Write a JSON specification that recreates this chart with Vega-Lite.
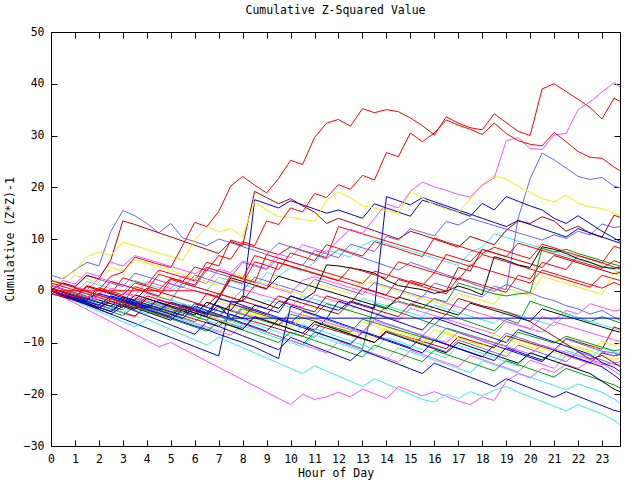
{
"$schema": "https://vega.github.io/schema/vega-lite/v6.json",
"width": 569, "height": 414,
"autosize": {"type": "none"},
"padding": {"left": 51, "top": 32, "right": 20, "bottom": 34},
"background": "white",
"title": {"text": "Cumulative Z-Squared Value", "font": "DejaVu Sans Mono", "fontSize": 11.5, "fontWeight": "normal", "color": "#000000", "offset": 10},
"config": {
  "view": {"stroke": "#000000", "strokeWidth": 1},
  "axis": {"domain": false, "grid": false, "labelFlush": false, "tickColor": "#000000", "tickSize": -6, "tickWidth": 1, "labelPadding": 13, "labelFont": "DejaVu Sans Mono", "labelFontSize": 11.5, "labelColor": "#000000", "titleFont": "DejaVu Sans Mono", "titleFontSize": 11.5, "titleFontWeight": "normal", "titleColor": "#000000"}
},
"data": {"values": [
{"s":"n1","x":0,"y":0},{"s":"n1","x":0.5,"y":-0.8},{"s":"n1","x":1,"y":-1.6},{"s":"n1","x":1.5,"y":-2.4},{"s":"n1","x":2,"y":-0.6},{"s":"n1","x":2.5,"y":-1.4},{"s":"n1","x":3,"y":-2.2},{"s":"n1","x":3.5,"y":-3},{"s":"n1","x":4,"y":-3.8},{"s":"n1","x":4.5,"y":-4.6},{"s":"n1","x":5,"y":-2.4},{"s":"n1","x":5.5,"y":-3.2},{"s":"n1","x":6,"y":-4},{"s":"n1","x":6.5,"y":-4.8},{"s":"n1","x":7,"y":-5.6},{"s":"n1","x":7.5,"y":-6.4},{"s":"n1","x":8,"y":-7.2},{"s":"n1","x":8.5,"y":-5},{"s":"n1","x":9,"y":-5.8},{"s":"n1","x":9.5,"y":-6.6},{"s":"n1","x":10,"y":-7.4},{"s":"n1","x":10.5,"y":-8.2},{"s":"n1","x":11,"y":-9},{"s":"n1","x":11.5,"y":-6.8},{"s":"n1","x":12,"y":-7.6},{"s":"n1","x":12.5,"y":-8.4},{"s":"n1","x":13,"y":-9.2},{"s":"n1","x":13.5,"y":-10},{"s":"n1","x":14,"y":-7.8},{"s":"n1","x":14.5,"y":-8.6},{"s":"n1","x":15,"y":-9.4},{"s":"n1","x":15.5,"y":-10.2},{"s":"n1","x":16,"y":-11},{"s":"n1","x":16.5,"y":-11.8},{"s":"n1","x":17,"y":-9.5},{"s":"n1","x":17.5,"y":-10.3},{"s":"n1","x":18,"y":-11.1},{"s":"n1","x":18.5,"y":-11.9},{"s":"n1","x":19,"y":-12.7},{"s":"n1","x":19.5,"y":-10.5},{"s":"n1","x":20,"y":-11.3},{"s":"n1","x":20.5,"y":-12.1},{"s":"n1","x":21,"y":-12.9},{"s":"n1","x":21.5,"y":-13.7},{"s":"n1","x":22,"y":-11.8},{"s":"n1","x":22.5,"y":-12.6},{"s":"n1","x":23,"y":-13.4},{"s":"n1","x":23.5,"y":-14.2},{"s":"n1","x":23.75,"y":-14.4},
{"s":"n2","x":0,"y":0.5},{"s":"n2","x":0.5,"y":-0.3},{"s":"n2","x":1,"y":-1.1},{"s":"n2","x":1.5,"y":1},{"s":"n2","x":2,"y":0.2},{"s":"n2","x":2.5,"y":-0.6},{"s":"n2","x":3,"y":-1.4},{"s":"n2","x":3.5,"y":-2.2},{"s":"n2","x":4,"y":-3},{"s":"n2","x":4.5,"y":-1},{"s":"n2","x":5,"y":-1.8},{"s":"n2","x":5.5,"y":-2.6},{"s":"n2","x":6,"y":-3.4},{"s":"n2","x":6.5,"y":-4.2},{"s":"n2","x":7,"y":-2},{"s":"n2","x":7.5,"y":-2.8},{"s":"n2","x":8,"y":-3.6},{"s":"n2","x":8.5,"y":-4.4},{"s":"n2","x":9,"y":-5.2},{"s":"n2","x":9.5,"y":-6},{"s":"n2","x":10,"y":-6.8},{"s":"n2","x":10.5,"y":-4.5},{"s":"n2","x":11,"y":-5.3},{"s":"n2","x":11.5,"y":-6.1},{"s":"n2","x":12,"y":-6.9},{"s":"n2","x":12.5,"y":-7.7},{"s":"n2","x":13,"y":-8.5},{"s":"n2","x":13.5,"y":-9.3},{"s":"n2","x":14,"y":-7},{"s":"n2","x":14.5,"y":-7.8},{"s":"n2","x":15,"y":-8.6},{"s":"n2","x":15.5,"y":-9.4},{"s":"n2","x":16,"y":-10.2},{"s":"n2","x":16.5,"y":-8},{"s":"n2","x":17,"y":-8.8},{"s":"n2","x":17.5,"y":-9.6},{"s":"n2","x":18,"y":-10.4},{"s":"n2","x":18.5,"y":-11.2},{"s":"n2","x":19,"y":-12},{"s":"n2","x":19.5,"y":-9.5},{"s":"n2","x":20,"y":-10.3},{"s":"n2","x":20.5,"y":-11.1},{"s":"n2","x":21,"y":-11.9},{"s":"n2","x":21.5,"y":-12.7},{"s":"n2","x":22,"y":-10.8},{"s":"n2","x":22.5,"y":-11.6},{"s":"n2","x":23,"y":-12.4},{"s":"n2","x":23.5,"y":-13.2},{"s":"n2","x":23.75,"y":-13},
{"s":"n3","x":0,"y":1},{"s":"n3","x":0.5,"y":0.2},{"s":"n3","x":1,"y":-0.6},{"s":"n3","x":1.5,"y":-1.4},{"s":"n3","x":2,"y":-2.2},{"s":"n3","x":2.5,"y":-3},{"s":"n3","x":3,"y":-1.2},{"s":"n3","x":3.5,"y":-2},{"s":"n3","x":4,"y":-2.8},{"s":"n3","x":4.5,"y":-3.6},{"s":"n3","x":5,"y":-4.4},{"s":"n3","x":5.5,"y":-5.2},{"s":"n3","x":6,"y":-6},{"s":"n3","x":6.5,"y":-4},{"s":"n3","x":7,"y":-4.8},{"s":"n3","x":7.5,"y":-5.6},{"s":"n3","x":8,"y":-6.4},{"s":"n3","x":8.5,"y":-7.2},{"s":"n3","x":9,"y":-8},{"s":"n3","x":9.5,"y":-8.8},{"s":"n3","x":10,"y":-9.6},{"s":"n3","x":10.5,"y":-10.4},{"s":"n3","x":11,"y":-8},{"s":"n3","x":11.5,"y":-8.8},{"s":"n3","x":12,"y":-9.6},{"s":"n3","x":12.5,"y":-10.4},{"s":"n3","x":13,"y":-11.2},{"s":"n3","x":13.5,"y":-2.5},{"s":"n3","x":14,"y":-3.3},{"s":"n3","x":14.5,"y":-4.1},{"s":"n3","x":15,"y":-4.9},{"s":"n3","x":15.5,"y":-5.7},{"s":"n3","x":16,"y":-6.5},{"s":"n3","x":16.5,"y":-4.5},{"s":"n3","x":17,"y":-5.3},{"s":"n3","x":17.5,"y":-6.1},{"s":"n3","x":18,"y":-6.9},{"s":"n3","x":18.5,"y":-7.7},{"s":"n3","x":19,"y":-5.5},{"s":"n3","x":19.5,"y":-6.3},{"s":"n3","x":20,"y":-2},{"s":"n3","x":20.5,"y":-2.8},{"s":"n3","x":21,"y":-3.6},{"s":"n3","x":21.5,"y":-4.4},{"s":"n3","x":22,"y":-5.2},{"s":"n3","x":22.5,"y":-6},{"s":"n3","x":23,"y":-5},{"s":"n3","x":23.5,"y":-5.8},{"s":"n3","x":23.75,"y":-6.2},
{"s":"n4","x":0,"y":0},{"s":"n4","x":0.5,"y":-0.7},{"s":"n4","x":1,"y":-1.4},{"s":"n4","x":1.5,"y":-2.1},{"s":"n4","x":2,"y":-2.8},{"s":"n4","x":2.5,"y":-3.5},{"s":"n4","x":3,"y":-1.5},{"s":"n4","x":3.5,"y":-2.2},{"s":"n4","x":4,"y":-2.9},{"s":"n4","x":4.5,"y":-3.6},{"s":"n4","x":5,"y":-1.8},{"s":"n4","x":5.5,"y":-2.5},{"s":"n4","x":6,"y":-3.2},{"s":"n4","x":6.5,"y":-3.9},{"s":"n4","x":7,"y":-4.6},{"s":"n4","x":7.5,"y":-2.5},{"s":"n4","x":8,"y":-3.2},{"s":"n4","x":8.5,"y":-3.9},{"s":"n4","x":9,"y":-1.8},{"s":"n4","x":9.5,"y":-2.5},{"s":"n4","x":10,"y":-3.2},{"s":"n4","x":10.5,"y":-1},{"s":"n4","x":11,"y":-1.7},{"s":"n4","x":11.5,"y":-2.4},{"s":"n4","x":12,"y":-3.1},{"s":"n4","x":12.5,"y":-3.8},{"s":"n4","x":13,"y":-1.5},{"s":"n4","x":13.5,"y":-2.2},{"s":"n4","x":14,"y":-2.9},{"s":"n4","x":14.5,"y":-3.6},{"s":"n4","x":15,"y":-4.3},{"s":"n4","x":15.5,"y":-5},{"s":"n4","x":16,"y":-2.8},{"s":"n4","x":16.5,"y":-3.5},{"s":"n4","x":17,"y":-4.2},{"s":"n4","x":17.5,"y":-4.9},{"s":"n4","x":18,"y":-5.6},{"s":"n4","x":18.5,"y":-6.3},{"s":"n4","x":19,"y":-4},{"s":"n4","x":19.5,"y":-4.7},{"s":"n4","x":20,"y":-5.4},{"s":"n4","x":20.5,"y":-6.1},{"s":"n4","x":21,"y":-6.8},{"s":"n4","x":21.5,"y":-4.5},{"s":"n4","x":22,"y":-5.2},{"s":"n4","x":22.5,"y":-5.9},{"s":"n4","x":23,"y":-6.6},{"s":"n4","x":23.5,"y":-7.3},{"s":"n4","x":23.75,"y":-7.6},
{"s":"n5","x":0,"y":0},{"s":"n5","x":0.5,"y":-0.9},{"s":"n5","x":1,"y":-1.8},{"s":"n5","x":1.5,"y":-2.7},{"s":"n5","x":2,"y":-3.6},{"s":"n5","x":2.5,"y":-4.5},{"s":"n5","x":3,"y":-5.4},{"s":"n5","x":3.5,"y":-6.3},{"s":"n5","x":4,"y":-7.2},{"s":"n5","x":4.5,"y":-8.1},{"s":"n5","x":5,"y":-9},{"s":"n5","x":5.5,"y":-9.9},{"s":"n5","x":6,"y":-10.8},{"s":"n5","x":6.5,"y":-11.7},{"s":"n5","x":7,"y":-12.6},{"s":"n5","x":7.5,"y":-2},{"s":"n5","x":8,"y":-2.8},{"s":"n5","x":8.5,"y":-3.6},{"s":"n5","x":9,"y":-4.4},{"s":"n5","x":9.5,"y":-5.2},{"s":"n5","x":10,"y":-6},{"s":"n5","x":10.5,"y":-6.8},{"s":"n5","x":11,"y":-7.6},{"s":"n5","x":11.5,"y":-5.4},{"s":"n5","x":12,"y":-6.2},{"s":"n5","x":12.5,"y":-7},{"s":"n5","x":13,"y":-7.8},{"s":"n5","x":13.5,"y":-8.6},{"s":"n5","x":14,"y":-9.4},{"s":"n5","x":14.5,"y":-10.2},{"s":"n5","x":15,"y":-11},{"s":"n5","x":15.5,"y":-8.8},{"s":"n5","x":16,"y":-9.6},{"s":"n5","x":16.5,"y":-10.4},{"s":"n5","x":17,"y":-11.2},{"s":"n5","x":17.5,"y":-12},{"s":"n5","x":18,"y":-12.8},{"s":"n5","x":18.5,"y":-10.5},{"s":"n5","x":19,"y":-11.3},{"s":"n5","x":19.5,"y":-12.1},{"s":"n5","x":20,"y":-12.9},{"s":"n5","x":20.5,"y":-13.7},{"s":"n5","x":21,"y":-11.5},{"s":"n5","x":21.5,"y":-12.3},{"s":"n5","x":22,"y":-13.1},{"s":"n5","x":22.5,"y":-13.9},{"s":"n5","x":23,"y":-12},{"s":"n5","x":23.5,"y":-12.6},{"s":"n5","x":23.75,"y":-12.3},
{"s":"n6","x":0,"y":0.5},{"s":"n6","x":0.5,"y":-0.3},{"s":"n6","x":1,"y":-1.1},{"s":"n6","x":1.5,"y":-1.9},{"s":"n6","x":2,"y":-2.7},{"s":"n6","x":2.5,"y":-3.5},{"s":"n6","x":3,"y":-4.3},{"s":"n6","x":3.5,"y":-5.1},{"s":"n6","x":4,"y":-3},{"s":"n6","x":4.5,"y":-3.8},{"s":"n6","x":5,"y":-4.6},{"s":"n6","x":5.5,"y":-5.4},{"s":"n6","x":6,"y":-6.2},{"s":"n6","x":6.5,"y":-7},{"s":"n6","x":7,"y":-7.8},{"s":"n6","x":7.5,"y":-8.6},{"s":"n6","x":8,"y":-6.4},{"s":"n6","x":8.5,"y":-7.2},{"s":"n6","x":9,"y":-8},{"s":"n6","x":9.5,"y":-8.8},{"s":"n6","x":10,"y":-9.6},{"s":"n6","x":10.5,"y":-10.4},{"s":"n6","x":11,"y":-11.2},{"s":"n6","x":11.5,"y":-12},{"s":"n6","x":12,"y":-9.8},{"s":"n6","x":12.5,"y":-10.6},{"s":"n6","x":13,"y":-11.4},{"s":"n6","x":13.5,"y":-12.2},{"s":"n6","x":14,"y":-13},{"s":"n6","x":14.5,"y":-13.8},{"s":"n6","x":15,"y":-11.5},{"s":"n6","x":15.5,"y":-12.3},{"s":"n6","x":16,"y":-13.1},{"s":"n6","x":16.5,"y":-13.9},{"s":"n6","x":17,"y":-14.7},{"s":"n6","x":17.5,"y":-12.5},{"s":"n6","x":18,"y":-13.3},{"s":"n6","x":18.5,"y":-14.1},{"s":"n6","x":19,"y":-14.9},{"s":"n6","x":19.5,"y":-15.7},{"s":"n6","x":20,"y":-13.4},{"s":"n6","x":20.5,"y":-14.2},{"s":"n6","x":21,"y":-15},{"s":"n6","x":21.5,"y":-12.5},{"s":"n6","x":22,"y":-13.3},{"s":"n6","x":22.5,"y":-14.1},{"s":"n6","x":23,"y":-11.8},{"s":"n6","x":23.5,"y":-12.6},{"s":"n6","x":23.75,"y":-11.9},
{"s":"n7","x":0,"y":0},{"s":"n7","x":0.5,"y":-0.7},{"s":"n7","x":1,"y":-1.4},{"s":"n7","x":1.5,"y":-2.1},{"s":"n7","x":2,"y":-2.8},{"s":"n7","x":2.5,"y":-3.5},{"s":"n7","x":3,"y":-4.2},{"s":"n7","x":3.5,"y":-4.9},{"s":"n7","x":4,"y":-2.7},{"s":"n7","x":4.5,"y":-3.4},{"s":"n7","x":5,"y":-4.1},{"s":"n7","x":5.5,"y":-4.8},{"s":"n7","x":6,"y":-5.5},{"s":"n7","x":6.5,"y":-6.2},{"s":"n7","x":7,"y":-6.9},{"s":"n7","x":7.5,"y":-4.6},{"s":"n7","x":8,"y":-5.3},{"s":"n7","x":8.5,"y":-6},{"s":"n7","x":9,"y":-6.7},{"s":"n7","x":9.5,"y":-7.4},{"s":"n7","x":10,"y":-8.1},{"s":"n7","x":10.5,"y":-8.8},{"s":"n7","x":11,"y":-6.5},{"s":"n7","x":11.5,"y":-7.2},{"s":"n7","x":12,"y":-7.9},{"s":"n7","x":12.5,"y":-8.6},{"s":"n7","x":13,"y":-9.3},{"s":"n7","x":13.5,"y":-10},{"s":"n7","x":14,"y":-7.7},{"s":"n7","x":14.5,"y":-8.4},{"s":"n7","x":15,"y":-9.1},{"s":"n7","x":15.5,"y":-9.8},{"s":"n7","x":16,"y":-10.5},{"s":"n7","x":16.5,"y":-11.2},{"s":"n7","x":17,"y":-8.9},{"s":"n7","x":17.5,"y":-9.6},{"s":"n7","x":18,"y":-10.3},{"s":"n7","x":18.5,"y":-11},{"s":"n7","x":19,"y":-8.7},{"s":"n7","x":19.5,"y":-9.4},{"s":"n7","x":20,"y":-10.1},{"s":"n7","x":20.5,"y":-10.8},{"s":"n7","x":21,"y":-11.5},{"s":"n7","x":21.5,"y":-9.2},{"s":"n7","x":22,"y":-9.9},{"s":"n7","x":22.5,"y":-10.6},{"s":"n7","x":23,"y":-11.3},{"s":"n7","x":23.5,"y":-7},{"s":"n7","x":23.75,"y":-7.4},
{"s":"n8","x":0,"y":0},{"s":"n8","x":0.5,"y":-0.7},{"s":"n8","x":1,"y":-1.4},{"s":"n8","x":1.5,"y":0.8},{"s":"n8","x":2,"y":0.1},{"s":"n8","x":2.5,"y":-0.6},{"s":"n8","x":3,"y":2.5},{"s":"n8","x":3.5,"y":1.8},{"s":"n8","x":4,"y":1.1},{"s":"n8","x":4.5,"y":4},{"s":"n8","x":5,"y":3.3},{"s":"n8","x":5.5,"y":2.6},{"s":"n8","x":6,"y":1.9},{"s":"n8","x":6.5,"y":5.5},{"s":"n8","x":7,"y":4.8},{"s":"n8","x":7.5,"y":9.8},{"s":"n8","x":8,"y":9.1},{"s":"n8","x":8.5,"y":8.4},{"s":"n8","x":9,"y":7.7},{"s":"n8","x":9.5,"y":7},{"s":"n8","x":10,"y":8.5},{"s":"n8","x":10.5,"y":7.8},{"s":"n8","x":11,"y":7.1},{"s":"n8","x":11.5,"y":6.4},{"s":"n8","x":12,"y":12.4},{"s":"n8","x":12.5,"y":11.7},{"s":"n8","x":13,"y":11},{"s":"n8","x":13.5,"y":10.3},{"s":"n8","x":14,"y":9.6},{"s":"n8","x":14.5,"y":8.9},{"s":"n8","x":15,"y":8.2},{"s":"n8","x":15.5,"y":7.5},{"s":"n8","x":16,"y":6.8},{"s":"n8","x":16.5,"y":6.1},{"s":"n8","x":17,"y":5.4},{"s":"n8","x":17.5,"y":4.7},{"s":"n8","x":18,"y":7},{"s":"n8","x":18.5,"y":6.3},{"s":"n8","x":19,"y":5.6},{"s":"n8","x":19.5,"y":4.9},{"s":"n8","x":20,"y":4.2},{"s":"n8","x":20.5,"y":3.5},{"s":"n8","x":21,"y":2.8},{"s":"n8","x":21.5,"y":2.1},{"s":"n8","x":22,"y":1.4},{"s":"n8","x":22.5,"y":0.7},{"s":"n8","x":23,"y":3},{"s":"n8","x":23.5,"y":2.3},{"s":"n8","x":23.75,"y":2},
{"s":"c1","x":0,"y":0.5},{"s":"c1","x":0.5,"y":-0.3},{"s":"c1","x":1,"y":-1.1},{"s":"c1","x":1.5,"y":-1.9},{"s":"c1","x":2,"y":-2.7},{"s":"c1","x":2.5,"y":-3.5},{"s":"c1","x":3,"y":-4.3},{"s":"c1","x":3.5,"y":-2.5},{"s":"c1","x":4,"y":-3.3},{"s":"c1","x":4.5,"y":-4.1},{"s":"c1","x":5,"y":-4.9},{"s":"c1","x":5.5,"y":-5.7},{"s":"c1","x":6,"y":-6.5},{"s":"c1","x":6.5,"y":-7.3},{"s":"c1","x":7,"y":-8.1},{"s":"c1","x":7.5,"y":-6},{"s":"c1","x":8,"y":-6.8},{"s":"c1","x":8.5,"y":-7.6},{"s":"c1","x":9,"y":-8.4},{"s":"c1","x":9.5,"y":-9.2},{"s":"c1","x":10,"y":-10},{"s":"c1","x":10.5,"y":-10.8},{"s":"c1","x":11,"y":-8.5},{"s":"c1","x":11.5,"y":-9.3},{"s":"c1","x":12,"y":-10.1},{"s":"c1","x":12.5,"y":-10.9},{"s":"c1","x":13,"y":-11.7},{"s":"c1","x":13.5,"y":-12.5},{"s":"c1","x":14,"y":-13.3},{"s":"c1","x":14.5,"y":-11},{"s":"c1","x":15,"y":-11.8},{"s":"c1","x":15.5,"y":-12.6},{"s":"c1","x":16,"y":-13.4},{"s":"c1","x":16.5,"y":-14.2},{"s":"c1","x":17,"y":-15},{"s":"c1","x":17.5,"y":-15.8},{"s":"c1","x":18,"y":-13.5},{"s":"c1","x":18.5,"y":-14.3},{"s":"c1","x":19,"y":-15.1},{"s":"c1","x":19.5,"y":-15.9},{"s":"c1","x":20,"y":-16.7},{"s":"c1","x":20.5,"y":-17.5},{"s":"c1","x":21,"y":-18.3},{"s":"c1","x":21.5,"y":-19.1},{"s":"c1","x":22,"y":-18},{"s":"c1","x":22.5,"y":-18.8},{"s":"c1","x":23,"y":-19.6},{"s":"c1","x":23.5,"y":-20.9},{"s":"c1","x":23.75,"y":-21.7},
{"s":"c2","x":0,"y":0},{"s":"c2","x":0.5,"y":-1},{"s":"c2","x":1,"y":-2},{"s":"c2","x":1.5,"y":-3},{"s":"c2","x":2,"y":-4},{"s":"c2","x":2.5,"y":-5},{"s":"c2","x":3,"y":-6},{"s":"c2","x":3.5,"y":-7},{"s":"c2","x":4,"y":-5.5},{"s":"c2","x":4.5,"y":-6.5},{"s":"c2","x":5,"y":-7.5},{"s":"c2","x":5.5,"y":-8.5},{"s":"c2","x":6,"y":-9.5},{"s":"c2","x":6.5,"y":-10.5},{"s":"c2","x":7,"y":-9},{"s":"c2","x":7.5,"y":-10},{"s":"c2","x":8,"y":-11},{"s":"c2","x":8.5,"y":-12},{"s":"c2","x":9,"y":-13},{"s":"c2","x":9.5,"y":-14},{"s":"c2","x":10,"y":-15},{"s":"c2","x":10.5,"y":-16},{"s":"c2","x":11,"y":-14.5},{"s":"c2","x":11.5,"y":-15.5},{"s":"c2","x":12,"y":-16.5},{"s":"c2","x":12.5,"y":-17.5},{"s":"c2","x":13,"y":-18.5},{"s":"c2","x":13.5,"y":-17},{"s":"c2","x":14,"y":-18},{"s":"c2","x":14.5,"y":-19},{"s":"c2","x":15,"y":-20},{"s":"c2","x":15.5,"y":-21},{"s":"c2","x":16,"y":-21.5},{"s":"c2","x":16.5,"y":-20},{"s":"c2","x":17,"y":-20.8},{"s":"c2","x":17.5,"y":-19.5},{"s":"c2","x":18,"y":-20.3},{"s":"c2","x":18.5,"y":-19.2},{"s":"c2","x":19,"y":-18.5},{"s":"c2","x":19.5,"y":-19.6},{"s":"c2","x":20,"y":-20.5},{"s":"c2","x":20.5,"y":-21.4},{"s":"c2","x":21,"y":-22.3},{"s":"c2","x":21.5,"y":-23.2},{"s":"c2","x":22,"y":-22},{"s":"c2","x":22.5,"y":-22.9},{"s":"c2","x":23,"y":-23.8},{"s":"c2","x":23.5,"y":-25},{"s":"c2","x":23.75,"y":-25.9},
{"s":"c4","x":0,"y":0},{"s":"c4","x":0.5,"y":-0.8},{"s":"c4","x":1,"y":-1.6},{"s":"c4","x":1.5,"y":-0.5},{"s":"c4","x":2,"y":-1.3},{"s":"c4","x":2.5,"y":-2.1},{"s":"c4","x":3,"y":-2.9},{"s":"c4","x":3.5,"y":-3.7},{"s":"c4","x":4,"y":-4.5},{"s":"c4","x":4.5,"y":-2.5},{"s":"c4","x":5,"y":-3.3},{"s":"c4","x":5.5,"y":-4.1},{"s":"c4","x":6,"y":-4.9},{"s":"c4","x":6.5,"y":-5.7},{"s":"c4","x":7,"y":-6.5},{"s":"c4","x":7.5,"y":-4.8},{"s":"c4","x":8,"y":-5.6},{"s":"c4","x":8.5,"y":-6.4},{"s":"c4","x":9,"y":-7.2},{"s":"c4","x":9.5,"y":-8},{"s":"c4","x":10,"y":-8.8},{"s":"c4","x":10.5,"y":-6.5},{"s":"c4","x":11,"y":-7.3},{"s":"c4","x":11.5,"y":-8.1},{"s":"c4","x":12,"y":-8.9},{"s":"c4","x":12.5,"y":-9.7},{"s":"c4","x":13,"y":-10.5},{"s":"c4","x":13.5,"y":-11.3},{"s":"c4","x":14,"y":-9},{"s":"c4","x":14.5,"y":-9.8},{"s":"c4","x":15,"y":-10.6},{"s":"c4","x":15.5,"y":-11.4},{"s":"c4","x":16,"y":-12.2},{"s":"c4","x":16.5,"y":-13},{"s":"c4","x":17,"y":-10.5},{"s":"c4","x":17.5,"y":-11.3},{"s":"c4","x":18,"y":-12.1},{"s":"c4","x":18.5,"y":-12.9},{"s":"c4","x":19,"y":-13.7},{"s":"c4","x":19.5,"y":-14.5},{"s":"c4","x":20,"y":-12},{"s":"c4","x":20.5,"y":-12.8},{"s":"c4","x":21,"y":-13.6},{"s":"c4","x":21.5,"y":-11.5},{"s":"c4","x":22,"y":-12.3},{"s":"c4","x":22.5,"y":-13.1},{"s":"c4","x":23,"y":-11},{"s":"c4","x":23.5,"y":-11.8},{"s":"c4","x":23.75,"y":-12.2},
{"s":"c3","x":0,"y":1},{"s":"c3","x":0.5,"y":0.3},{"s":"c3","x":1,"y":-0.4},{"s":"c3","x":1.5,"y":1.8},{"s":"c3","x":2,"y":1.1},{"s":"c3","x":2.5,"y":0.4},{"s":"c3","x":3,"y":-0.3},{"s":"c3","x":3.5,"y":2},{"s":"c3","x":4,"y":1.3},{"s":"c3","x":4.5,"y":0.6},{"s":"c3","x":5,"y":-0.1},{"s":"c3","x":5.5,"y":1.5},{"s":"c3","x":6,"y":0.8},{"s":"c3","x":6.5,"y":0.1},{"s":"c3","x":7,"y":2.6},{"s":"c3","x":7.5,"y":1.9},{"s":"c3","x":8,"y":1.2},{"s":"c3","x":8.5,"y":0.5},{"s":"c3","x":9,"y":3.5},{"s":"c3","x":9.5,"y":2.8},{"s":"c3","x":10,"y":4.5},{"s":"c3","x":10.5,"y":3.8},{"s":"c3","x":11,"y":5.5},{"s":"c3","x":11.5,"y":7.9},{"s":"c3","x":12,"y":7.2},{"s":"c3","x":12.5,"y":6.5},{"s":"c3","x":13,"y":8.8},{"s":"c3","x":13.5,"y":9.8},{"s":"c3","x":14,"y":9.1},{"s":"c3","x":14.5,"y":8.4},{"s":"c3","x":15,"y":7.7},{"s":"c3","x":15.5,"y":7},{"s":"c3","x":16,"y":6.3},{"s":"c3","x":16.5,"y":5.6},{"s":"c3","x":17,"y":4.9},{"s":"c3","x":17.5,"y":7.5},{"s":"c3","x":18,"y":8.4},{"s":"c3","x":18.5,"y":11},{"s":"c3","x":19,"y":10.3},{"s":"c3","x":19.5,"y":9.6},{"s":"c3","x":20,"y":8.9},{"s":"c3","x":20.5,"y":8.2},{"s":"c3","x":21,"y":7.5},{"s":"c3","x":21.5,"y":6.8},{"s":"c3","x":22,"y":6.1},{"s":"c3","x":22.5,"y":5.4},{"s":"c3","x":23,"y":4.7},{"s":"c3","x":23.5,"y":4},{"s":"c3","x":23.75,"y":3.6},
{"s":"y3","x":0,"y":0},{"s":"y3","x":0.5,"y":-0.8},{"s":"y3","x":1,"y":-1.6},{"s":"y3","x":1.5,"y":-2.4},{"s":"y3","x":2,"y":-0.8},{"s":"y3","x":2.5,"y":-1.6},{"s":"y3","x":3,"y":-2.4},{"s":"y3","x":3.5,"y":-3.2},{"s":"y3","x":4,"y":-4},{"s":"y3","x":4.5,"y":-4.8},{"s":"y3","x":5,"y":-2.5},{"s":"y3","x":5.5,"y":-3.3},{"s":"y3","x":6,"y":-4.1},{"s":"y3","x":6.5,"y":-4.9},{"s":"y3","x":7,"y":-5.7},{"s":"y3","x":7.5,"y":-6.5},{"s":"y3","x":8,"y":-4},{"s":"y3","x":8.5,"y":-4.8},{"s":"y3","x":9,"y":-5.6},{"s":"y3","x":9.5,"y":-6.4},{"s":"y3","x":10,"y":-7.2},{"s":"y3","x":10.5,"y":-5},{"s":"y3","x":11,"y":-5.8},{"s":"y3","x":11.5,"y":-6.6},{"s":"y3","x":12,"y":-7.4},{"s":"y3","x":12.5,"y":-8.2},{"s":"y3","x":13,"y":-6},{"s":"y3","x":13.5,"y":-6.8},{"s":"y3","x":14,"y":-7.6},{"s":"y3","x":14.5,"y":-8.4},{"s":"y3","x":15,"y":-9.2},{"s":"y3","x":15.5,"y":-10},{"s":"y3","x":16,"y":-7.5},{"s":"y3","x":16.5,"y":-8.3},{"s":"y3","x":17,"y":-9.1},{"s":"y3","x":17.5,"y":-9.9},{"s":"y3","x":18,"y":-10.7},{"s":"y3","x":18.5,"y":-8.5},{"s":"y3","x":19,"y":-9.3},{"s":"y3","x":19.5,"y":-10.1},{"s":"y3","x":20,"y":-10.9},{"s":"y3","x":20.5,"y":-11.7},{"s":"y3","x":21,"y":-9.5},{"s":"y3","x":21.5,"y":-10.3},{"s":"y3","x":22,"y":-11.1},{"s":"y3","x":22.5,"y":-11.9},{"s":"y3","x":23,"y":-9.8},{"s":"y3","x":23.5,"y":-10.6},{"s":"y3","x":23.75,"y":-10.2},
{"s":"y2","x":0,"y":1.5},{"s":"y2","x":0.5,"y":0.8},{"s":"y2","x":1,"y":3},{"s":"y2","x":1.5,"y":2.3},{"s":"y2","x":2,"y":1.6},{"s":"y2","x":2.5,"y":4.5},{"s":"y2","x":3,"y":3.8},{"s":"y2","x":3.5,"y":6},{"s":"y2","x":4,"y":5.3},{"s":"y2","x":4.5,"y":4.6},{"s":"y2","x":5,"y":3.9},{"s":"y2","x":5.5,"y":3.2},{"s":"y2","x":6,"y":2.5},{"s":"y2","x":6.5,"y":1.8},{"s":"y2","x":7,"y":1.1},{"s":"y2","x":7.5,"y":3.4},{"s":"y2","x":8,"y":2.7},{"s":"y2","x":8.5,"y":2},{"s":"y2","x":9,"y":1.3},{"s":"y2","x":9.5,"y":0.6},{"s":"y2","x":10,"y":-0.1},{"s":"y2","x":10.5,"y":-0.8},{"s":"y2","x":11,"y":1.5},{"s":"y2","x":11.5,"y":0.8},{"s":"y2","x":12,"y":0.1},{"s":"y2","x":12.5,"y":-0.6},{"s":"y2","x":13,"y":2},{"s":"y2","x":13.5,"y":1.3},{"s":"y2","x":14,"y":0.6},{"s":"y2","x":14.5,"y":-0.1},{"s":"y2","x":15,"y":-0.8},{"s":"y2","x":15.5,"y":-1.5},{"s":"y2","x":16,"y":-2.2},{"s":"y2","x":16.5,"y":-2.9},{"s":"y2","x":17,"y":-0.5},{"s":"y2","x":17.5,"y":-1.2},{"s":"y2","x":18,"y":-1.9},{"s":"y2","x":18.5,"y":-2.6},{"s":"y2","x":19,"y":0.5},{"s":"y2","x":19.5,"y":-0.2},{"s":"y2","x":20,"y":-0.9},{"s":"y2","x":20.5,"y":2.8},{"s":"y2","x":21,"y":2.1},{"s":"y2","x":21.5,"y":1.4},{"s":"y2","x":22,"y":0.7},{"s":"y2","x":22.5,"y":0},{"s":"y2","x":23,"y":-0.7},{"s":"y2","x":23.5,"y":3.5},{"s":"y2","x":23.75,"y":3},
{"s":"g3","x":0,"y":0},{"s":"g3","x":0.5,"y":-0.8},{"s":"g3","x":1,"y":-1.6},{"s":"g3","x":1.5,"y":-2.4},{"s":"g3","x":2,"y":-3.2},{"s":"g3","x":2.5,"y":-4},{"s":"g3","x":3,"y":-4.8},{"s":"g3","x":3.5,"y":-3},{"s":"g3","x":4,"y":-3.8},{"s":"g3","x":4.5,"y":-4.6},{"s":"g3","x":5,"y":-5.4},{"s":"g3","x":5.5,"y":-6.2},{"s":"g3","x":6,"y":-7},{"s":"g3","x":6.5,"y":-7.8},{"s":"g3","x":7,"y":-6},{"s":"g3","x":7.5,"y":-6.8},{"s":"g3","x":8,"y":-7.6},{"s":"g3","x":8.5,"y":-8.4},{"s":"g3","x":9,"y":-9.2},{"s":"g3","x":9.5,"y":-10},{"s":"g3","x":10,"y":-8},{"s":"g3","x":10.5,"y":-8.8},{"s":"g3","x":11,"y":-9.6},{"s":"g3","x":11.5,"y":-10.4},{"s":"g3","x":12,"y":-11.2},{"s":"g3","x":12.5,"y":-12},{"s":"g3","x":13,"y":-12.8},{"s":"g3","x":13.5,"y":-10.5},{"s":"g3","x":14,"y":-11.3},{"s":"g3","x":14.5,"y":-12.1},{"s":"g3","x":15,"y":-12.9},{"s":"g3","x":15.5,"y":-13.7},{"s":"g3","x":16,"y":-11.5},{"s":"g3","x":16.5,"y":-12.3},{"s":"g3","x":17,"y":-13.1},{"s":"g3","x":17.5,"y":-13.9},{"s":"g3","x":18,"y":-14.7},{"s":"g3","x":18.5,"y":-15.5},{"s":"g3","x":19,"y":-13.5},{"s":"g3","x":19.5,"y":-14.3},{"s":"g3","x":20,"y":-15.1},{"s":"g3","x":20.5,"y":-15.9},{"s":"g3","x":21,"y":-16.7},{"s":"g3","x":21.5,"y":-15},{"s":"g3","x":22,"y":-15.8},{"s":"g3","x":22.5,"y":-16.6},{"s":"g3","x":23,"y":-17.4},{"s":"g3","x":23.5,"y":-18.2},{"s":"g3","x":23.75,"y":-18.8},
{"s":"g2","x":0,"y":0.5},{"s":"g2","x":0.5,"y":-0.2},{"s":"g2","x":1,"y":-0.9},{"s":"g2","x":1.5,"y":-1.6},{"s":"g2","x":2,"y":-2.3},{"s":"g2","x":2.5,"y":-3},{"s":"g2","x":3,"y":-3.7},{"s":"g2","x":3.5,"y":-1.5},{"s":"g2","x":4,"y":-2.2},{"s":"g2","x":4.5,"y":-2.9},{"s":"g2","x":5,"y":-3.6},{"s":"g2","x":5.5,"y":-4.3},{"s":"g2","x":6,"y":-5},{"s":"g2","x":6.5,"y":-5.7},{"s":"g2","x":7,"y":-3.2},{"s":"g2","x":7.5,"y":-3.9},{"s":"g2","x":8,"y":-4.6},{"s":"g2","x":8.5,"y":-5.3},{"s":"g2","x":9,"y":-6},{"s":"g2","x":9.5,"y":-6.7},{"s":"g2","x":10,"y":-4.5},{"s":"g2","x":10.5,"y":-5.2},{"s":"g2","x":11,"y":-5.9},{"s":"g2","x":11.5,"y":-6.6},{"s":"g2","x":12,"y":-7.3},{"s":"g2","x":12.5,"y":-8},{"s":"g2","x":13,"y":-5.5},{"s":"g2","x":13.5,"y":-6.2},{"s":"g2","x":14,"y":-6.9},{"s":"g2","x":14.5,"y":-7.6},{"s":"g2","x":15,"y":-8.3},{"s":"g2","x":15.5,"y":-9},{"s":"g2","x":16,"y":-9.7},{"s":"g2","x":16.5,"y":-7.2},{"s":"g2","x":17,"y":-7.9},{"s":"g2","x":17.5,"y":-8.6},{"s":"g2","x":18,"y":-9.3},{"s":"g2","x":18.5,"y":-10},{"s":"g2","x":19,"y":-10.7},{"s":"g2","x":19.5,"y":-8},{"s":"g2","x":20,"y":-8.7},{"s":"g2","x":20.5,"y":-9.4},{"s":"g2","x":21,"y":-10.1},{"s":"g2","x":21.5,"y":-8.8},{"s":"g2","x":22,"y":-9.5},{"s":"g2","x":22.5,"y":-10.2},{"s":"g2","x":23,"y":-10.9},{"s":"g2","x":23.5,"y":-11.6},{"s":"g2","x":23.75,"y":-11.4},
{"s":"g1","x":0,"y":0},{"s":"g1","x":0.5,"y":-0.7},{"s":"g1","x":1,"y":-1.4},{"s":"g1","x":1.5,"y":-2.1},{"s":"g1","x":2,"y":-2.8},{"s":"g1","x":2.5,"y":-1},{"s":"g1","x":3,"y":-1.7},{"s":"g1","x":3.5,"y":-2.4},{"s":"g1","x":4,"y":-3.1},{"s":"g1","x":4.5,"y":-3.8},{"s":"g1","x":5,"y":-4.5},{"s":"g1","x":5.5,"y":-2.8},{"s":"g1","x":6,"y":-3.5},{"s":"g1","x":6.5,"y":-4.2},{"s":"g1","x":7,"y":-4.9},{"s":"g1","x":7.5,"y":-5.6},{"s":"g1","x":8,"y":-3.5},{"s":"g1","x":8.5,"y":-4.2},{"s":"g1","x":9,"y":-4.9},{"s":"g1","x":9.5,"y":-5.6},{"s":"g1","x":10,"y":-6.3},{"s":"g1","x":10.5,"y":-4},{"s":"g1","x":11,"y":-4.7},{"s":"g1","x":11.5,"y":-2.5},{"s":"g1","x":12,"y":-3.2},{"s":"g1","x":12.5,"y":-3.9},{"s":"g1","x":13,"y":-4.6},{"s":"g1","x":13.5,"y":-5.3},{"s":"g1","x":14,"y":-3},{"s":"g1","x":14.5,"y":-2},{"s":"g1","x":15,"y":-2.7},{"s":"g1","x":15.5,"y":-3.4},{"s":"g1","x":16,"y":-1.5},{"s":"g1","x":16.5,"y":-2.2},{"s":"g1","x":17,"y":1.5},{"s":"g1","x":17.5,"y":0.8},{"s":"g1","x":18,"y":0.1},{"s":"g1","x":18.5,"y":-0.6},{"s":"g1","x":19,"y":-1},{"s":"g1","x":19.5,"y":-0.6},{"s":"g1","x":20,"y":-0.4},{"s":"g1","x":20.5,"y":8.2},{"s":"g1","x":21,"y":7.5},{"s":"g1","x":21.5,"y":8},{"s":"g1","x":22,"y":7.2},{"s":"g1","x":22.5,"y":6.5},{"s":"g1","x":23,"y":5.8},{"s":"g1","x":23.5,"y":5.1},{"s":"g1","x":23.75,"y":4.8},
{"s":"m4","x":0,"y":1},{"s":"m4","x":0.5,"y":0.3},{"s":"m4","x":1,"y":-0.4},{"s":"m4","x":1.5,"y":-1.1},{"s":"m4","x":2,"y":-1.8},{"s":"m4","x":2.5,"y":-2.5},{"s":"m4","x":3,"y":-0.5},{"s":"m4","x":3.5,"y":-1.2},{"s":"m4","x":4,"y":-1.9},{"s":"m4","x":4.5,"y":-2.6},{"s":"m4","x":5,"y":-3.3},{"s":"m4","x":5.5,"y":-4},{"s":"m4","x":6,"y":-4.7},{"s":"m4","x":6.5,"y":-2.3},{"s":"m4","x":7,"y":-3},{"s":"m4","x":7.5,"y":-3.7},{"s":"m4","x":8,"y":-4.4},{"s":"m4","x":8.5,"y":-5.1},{"s":"m4","x":9,"y":-5.8},{"s":"m4","x":9.5,"y":-6.5},{"s":"m4","x":10,"y":-4},{"s":"m4","x":10.5,"y":-4.7},{"s":"m4","x":11,"y":-5.4},{"s":"m4","x":11.5,"y":-6.1},{"s":"m4","x":12,"y":-6.8},{"s":"m4","x":12.5,"y":-7.5},{"s":"m4","x":13,"y":-8.2},{"s":"m4","x":13.5,"y":-5.8},{"s":"m4","x":14,"y":-6.5},{"s":"m4","x":14.5,"y":-7.2},{"s":"m4","x":15,"y":-7.9},{"s":"m4","x":15.5,"y":-8.6},{"s":"m4","x":16,"y":-9.3},{"s":"m4","x":16.5,"y":-10},{"s":"m4","x":17,"y":-8},{"s":"m4","x":17.5,"y":-8.7},{"s":"m4","x":18,"y":-9.4},{"s":"m4","x":18.5,"y":-10.1},{"s":"m4","x":19,"y":-10.8},{"s":"m4","x":19.5,"y":-11.5},{"s":"m4","x":20,"y":-12.2},{"s":"m4","x":20.5,"y":-10.5},{"s":"m4","x":21,"y":-11.2},{"s":"m4","x":21.5,"y":-11.9},{"s":"m4","x":22,"y":-12.6},{"s":"m4","x":22.5,"y":-13.3},{"s":"m4","x":23,"y":-14},{"s":"m4","x":23.5,"y":-15.5},{"s":"m4","x":23.75,"y":-16.3},
{"s":"m3","x":0,"y":0},{"s":"m3","x":0.5,"y":-1.2},{"s":"m3","x":1,"y":-2.4},{"s":"m3","x":1.5,"y":-3.6},{"s":"m3","x":2,"y":-4.8},{"s":"m3","x":2.5,"y":-6},{"s":"m3","x":3,"y":-7.2},{"s":"m3","x":3.5,"y":-8.4},{"s":"m3","x":4,"y":-9.6},{"s":"m3","x":4.5,"y":-10.8},{"s":"m3","x":5,"y":-10},{"s":"m3","x":5.5,"y":-11.2},{"s":"m3","x":6,"y":-12.4},{"s":"m3","x":6.5,"y":-13.6},{"s":"m3","x":7,"y":-14.8},{"s":"m3","x":7.5,"y":-16},{"s":"m3","x":8,"y":-17.2},{"s":"m3","x":8.5,"y":-18.4},{"s":"m3","x":9,"y":-19.6},{"s":"m3","x":9.5,"y":-20.8},{"s":"m3","x":10,"y":-22},{"s":"m3","x":10.5,"y":-20},{"s":"m3","x":11,"y":-21},{"s":"m3","x":11.5,"y":-20.5},{"s":"m3","x":12,"y":-19.6},{"s":"m3","x":12.5,"y":-20.5},{"s":"m3","x":13,"y":-19},{"s":"m3","x":13.5,"y":-19.9},{"s":"m3","x":14,"y":-20.8},{"s":"m3","x":14.5,"y":-18.5},{"s":"m3","x":15,"y":-19.4},{"s":"m3","x":15.5,"y":-20.3},{"s":"m3","x":16,"y":-19.5},{"s":"m3","x":16.5,"y":-20.4},{"s":"m3","x":17,"y":-21.3},{"s":"m3","x":17.5,"y":-22},{"s":"m3","x":18,"y":-20.5},{"s":"m3","x":18.5,"y":-21.2},{"s":"m3","x":19,"y":-17.5},{"s":"m3","x":19.5,"y":-16},{"s":"m3","x":20,"y":-16.8},{"s":"m3","x":20.5,"y":-15},{"s":"m3","x":21,"y":-15.8},{"s":"m3","x":21.5,"y":-14.2},{"s":"m3","x":22,"y":-15},{"s":"m3","x":22.5,"y":-13.5},{"s":"m3","x":23,"y":-14.3},{"s":"m3","x":23.5,"y":-14},{"s":"m3","x":23.75,"y":-13.7},
{"s":"m5","x":0,"y":0},{"s":"m5","x":0.5,"y":2},{"s":"m5","x":1,"y":1.3},{"s":"m5","x":1.5,"y":3.5},{"s":"m5","x":2,"y":2.8},{"s":"m5","x":2.5,"y":5.5},{"s":"m5","x":3,"y":4.8},{"s":"m5","x":3.5,"y":6.8},{"s":"m5","x":4,"y":6.1},{"s":"m5","x":4.5,"y":5.4},{"s":"m5","x":5,"y":4.7},{"s":"m5","x":5.5,"y":4},{"s":"m5","x":6,"y":3.3},{"s":"m5","x":6.5,"y":4.5},{"s":"m5","x":7,"y":3.8},{"s":"m5","x":7.5,"y":3.1},{"s":"m5","x":8,"y":2.4},{"s":"m5","x":8.5,"y":1.7},{"s":"m5","x":9,"y":1},{"s":"m5","x":9.5,"y":0.3},{"s":"m5","x":10,"y":-0.4},{"s":"m5","x":10.5,"y":2},{"s":"m5","x":11,"y":2.7},{"s":"m5","x":11.5,"y":2},{"s":"m5","x":12,"y":1.3},{"s":"m5","x":12.5,"y":0.6},{"s":"m5","x":13,"y":-0.1},{"s":"m5","x":13.5,"y":-0.8},{"s":"m5","x":14,"y":-1.5},{"s":"m5","x":14.5,"y":-2.2},{"s":"m5","x":15,"y":-2.9},{"s":"m5","x":15.5,"y":-1},{"s":"m5","x":16,"y":-1.7},{"s":"m5","x":16.5,"y":-2.4},{"s":"m5","x":17,"y":-3.1},{"s":"m5","x":17.5,"y":-3.8},{"s":"m5","x":18,"y":-4.5},{"s":"m5","x":18.5,"y":-5.2},{"s":"m5","x":19,"y":-5.9},{"s":"m5","x":19.5,"y":-6.6},{"s":"m5","x":20,"y":-7.3},{"s":"m5","x":20.5,"y":-8},{"s":"m5","x":21,"y":-6},{"s":"m5","x":21.5,"y":-6.7},{"s":"m5","x":22,"y":-7.4},{"s":"m5","x":22.5,"y":-8.1},{"s":"m5","x":23,"y":-8.8},{"s":"m5","x":23.5,"y":-9.5},{"s":"m5","x":23.75,"y":-9.8},
{"s":"m2","x":0,"y":0},{"s":"m2","x":0.5,"y":1.5},{"s":"m2","x":1,"y":0.8},{"s":"m2","x":1.5,"y":0.1},{"s":"m2","x":2,"y":2.5},{"s":"m2","x":2.5,"y":1.8},{"s":"m2","x":3,"y":1.1},{"s":"m2","x":3.5,"y":0.4},{"s":"m2","x":4,"y":-0.3},{"s":"m2","x":4.5,"y":-1},{"s":"m2","x":5,"y":1.4},{"s":"m2","x":5.5,"y":0.7},{"s":"m2","x":6,"y":0},{"s":"m2","x":6.5,"y":-0.7},{"s":"m2","x":7,"y":-1.4},{"s":"m2","x":7.5,"y":-2.1},{"s":"m2","x":8,"y":0.3},{"s":"m2","x":8.5,"y":-0.4},{"s":"m2","x":9,"y":-1.1},{"s":"m2","x":9.5,"y":-1.8},{"s":"m2","x":10,"y":-2.5},{"s":"m2","x":10.5,"y":-3.2},{"s":"m2","x":11,"y":-0.8},{"s":"m2","x":11.5,"y":-1.5},{"s":"m2","x":12,"y":-2.2},{"s":"m2","x":12.5,"y":-2.9},{"s":"m2","x":13,"y":-3.6},{"s":"m2","x":13.5,"y":-4.3},{"s":"m2","x":14,"y":-5},{"s":"m2","x":14.5,"y":-5.7},{"s":"m2","x":15,"y":-3.4},{"s":"m2","x":15.5,"y":-4.1},{"s":"m2","x":16,"y":-4.8},{"s":"m2","x":16.5,"y":-5.5},{"s":"m2","x":17,"y":-6.2},{"s":"m2","x":17.5,"y":-6.9},{"s":"m2","x":18,"y":-7.6},{"s":"m2","x":18.5,"y":-8.3},{"s":"m2","x":19,"y":-6},{"s":"m2","x":19.5,"y":-6.7},{"s":"m2","x":20,"y":-7.4},{"s":"m2","x":20.5,"y":-5},{"s":"m2","x":21,"y":-5.7},{"s":"m2","x":21.5,"y":-3.8},{"s":"m2","x":22,"y":-4.5},{"s":"m2","x":22.5,"y":-2.5},{"s":"m2","x":23,"y":-3.2},{"s":"m2","x":23.5,"y":-3.9},{"s":"m2","x":23.75,"y":-3.7},
{"s":"k3","x":0,"y":0},{"s":"k3","x":0.5,"y":-0.8},{"s":"k3","x":1,"y":-1.6},{"s":"k3","x":1.5,"y":-2.4},{"s":"k3","x":2,"y":-3.2},{"s":"k3","x":2.5,"y":-4},{"s":"k3","x":3,"y":-2.5},{"s":"k3","x":3.5,"y":-3.3},{"s":"k3","x":4,"y":-4.1},{"s":"k3","x":4.5,"y":-4.9},{"s":"k3","x":5,"y":-5.7},{"s":"k3","x":5.5,"y":-3.5},{"s":"k3","x":6,"y":-4.3},{"s":"k3","x":6.5,"y":-5.1},{"s":"k3","x":7,"y":-5.9},{"s":"k3","x":7.5,"y":-6.7},{"s":"k3","x":8,"y":-7.5},{"s":"k3","x":8.5,"y":-5},{"s":"k3","x":9,"y":-5.8},{"s":"k3","x":9.5,"y":-6.6},{"s":"k3","x":10,"y":-7.4},{"s":"k3","x":10.5,"y":-8.2},{"s":"k3","x":11,"y":-6},{"s":"k3","x":11.5,"y":-6.8},{"s":"k3","x":12,"y":-7.6},{"s":"k3","x":12.5,"y":-8.4},{"s":"k3","x":13,"y":-9.2},{"s":"k3","x":13.5,"y":-10},{"s":"k3","x":14,"y":-8},{"s":"k3","x":14.5,"y":-8.8},{"s":"k3","x":15,"y":-9.6},{"s":"k3","x":15.5,"y":-10.4},{"s":"k3","x":16,"y":-11.2},{"s":"k3","x":16.5,"y":-12},{"s":"k3","x":17,"y":-10},{"s":"k3","x":17.5,"y":-10.8},{"s":"k3","x":18,"y":-11.6},{"s":"k3","x":18.5,"y":-12.4},{"s":"k3","x":19,"y":-13.2},{"s":"k3","x":19.5,"y":-14},{"s":"k3","x":20,"y":-12},{"s":"k3","x":20.5,"y":-12.8},{"s":"k3","x":21,"y":-13.6},{"s":"k3","x":21.5,"y":-14.4},{"s":"k3","x":22,"y":-15.2},{"s":"k3","x":22.5,"y":-16},{"s":"k3","x":23,"y":-17.5},{"s":"k3","x":23.5,"y":-19},{"s":"k3","x":23.75,"y":-19.5},
{"s":"k2","x":0,"y":1},{"s":"k2","x":0.5,"y":0.3},{"s":"k2","x":1,"y":-0.4},{"s":"k2","x":1.5,"y":-1.1},{"s":"k2","x":2,"y":-1.8},{"s":"k2","x":2.5,"y":-2.5},{"s":"k2","x":3,"y":-3.2},{"s":"k2","x":3.5,"y":-0.8},{"s":"k2","x":4,"y":-1.5},{"s":"k2","x":4.5,"y":-2.2},{"s":"k2","x":5,"y":-2.9},{"s":"k2","x":5.5,"y":-3.6},{"s":"k2","x":6,"y":-4.3},{"s":"k2","x":6.5,"y":-5},{"s":"k2","x":7,"y":-1.5},{"s":"k2","x":7.5,"y":2.5},{"s":"k2","x":8,"y":1.8},{"s":"k2","x":8.5,"y":1.1},{"s":"k2","x":9,"y":0.4},{"s":"k2","x":9.5,"y":2.8},{"s":"k2","x":10,"y":2.1},{"s":"k2","x":10.5,"y":1.4},{"s":"k2","x":11,"y":0.7},{"s":"k2","x":11.5,"y":0},{"s":"k2","x":12,"y":-0.7},{"s":"k2","x":12.5,"y":-1.4},{"s":"k2","x":13,"y":-2.1},{"s":"k2","x":13.5,"y":-2.8},{"s":"k2","x":14,"y":-3.5},{"s":"k2","x":14.5,"y":-1.2},{"s":"k2","x":15,"y":-1.9},{"s":"k2","x":15.5,"y":-2.6},{"s":"k2","x":16,"y":-3.3},{"s":"k2","x":16.5,"y":-4},{"s":"k2","x":17,"y":-4.7},{"s":"k2","x":17.5,"y":-2.4},{"s":"k2","x":18,"y":-3.1},{"s":"k2","x":18.5,"y":-3.8},{"s":"k2","x":19,"y":-4.5},{"s":"k2","x":19.5,"y":-5.2},{"s":"k2","x":20,"y":-5.9},{"s":"k2","x":20.5,"y":-3.5},{"s":"k2","x":21,"y":-4.2},{"s":"k2","x":21.5,"y":-4.9},{"s":"k2","x":22,"y":-5.6},{"s":"k2","x":22.5,"y":-6.3},{"s":"k2","x":23,"y":-7},{"s":"k2","x":23.5,"y":-7.7},{"s":"k2","x":23.75,"y":-8},
{"s":"k1","x":0,"y":0},{"s":"k1","x":0.5,"y":-1},{"s":"k1","x":1,"y":-1.8},{"s":"k1","x":1.5,"y":-2.6},{"s":"k1","x":2,"y":-3.4},{"s":"k1","x":2.5,"y":-2},{"s":"k1","x":3,"y":-2.8},{"s":"k1","x":3.5,"y":-3.6},{"s":"k1","x":4,"y":-1.5},{"s":"k1","x":4.5,"y":-2.3},{"s":"k1","x":5,"y":-3.1},{"s":"k1","x":5.5,"y":-3.9},{"s":"k1","x":6,"y":-4.7},{"s":"k1","x":6.5,"y":-2.2},{"s":"k1","x":7,"y":-3},{"s":"k1","x":7.5,"y":-3.8},{"s":"k1","x":8,"y":-1},{"s":"k1","x":8.5,"y":-1.8},{"s":"k1","x":9,"y":-2.6},{"s":"k1","x":9.5,"y":-3.4},{"s":"k1","x":10,"y":-1},{"s":"k1","x":10.5,"y":-1.8},{"s":"k1","x":11,"y":-0.3},{"s":"k1","x":11.5,"y":5},{"s":"k1","x":12,"y":4.8},{"s":"k1","x":12.5,"y":4.4},{"s":"k1","x":13,"y":4},{"s":"k1","x":13.5,"y":3.4},{"s":"k1","x":14,"y":2},{"s":"k1","x":14.5,"y":1},{"s":"k1","x":15,"y":0.6},{"s":"k1","x":15.5,"y":0.2},{"s":"k1","x":16,"y":-0.5},{"s":"k1","x":16.5,"y":-0.1},{"s":"k1","x":17,"y":0.9},{"s":"k1","x":17.5,"y":0.2},{"s":"k1","x":18,"y":-0.8},{"s":"k1","x":18.5,"y":6.6},{"s":"k1","x":19,"y":5.9},{"s":"k1","x":19.5,"y":5},{"s":"k1","x":20,"y":4.5},{"s":"k1","x":20.5,"y":8.5},{"s":"k1","x":21,"y":8},{"s":"k1","x":21.5,"y":7.2},{"s":"k1","x":22,"y":6.2},{"s":"k1","x":22.5,"y":5.5},{"s":"k1","x":23,"y":4.6},{"s":"k1","x":23.5,"y":4.3},{"s":"k1","x":23.75,"y":4.6},
{"s":"l4","x":0,"y":0.5},{"s":"l4","x":0.5,"y":-0.3},{"s":"l4","x":1,"y":-1.1},{"s":"l4","x":1.5,"y":-1.9},{"s":"l4","x":2,"y":-2.7},{"s":"l4","x":2.5,"y":-3.5},{"s":"l4","x":3,"y":-1.8},{"s":"l4","x":3.5,"y":-2.6},{"s":"l4","x":4,"y":-3.4},{"s":"l4","x":4.5,"y":-4.2},{"s":"l4","x":5,"y":-5},{"s":"l4","x":5.5,"y":-2.6},{"s":"l4","x":6,"y":-3.4},{"s":"l4","x":6.5,"y":-4.2},{"s":"l4","x":7,"y":-5},{"s":"l4","x":7.5,"y":-5.8},{"s":"l4","x":8,"y":-3},{"s":"l4","x":8.5,"y":-3.8},{"s":"l4","x":9,"y":-4.6},{"s":"l4","x":9.5,"y":-5.4},{"s":"l4","x":10,"y":-6.2},{"s":"l4","x":10.5,"y":-4},{"s":"l4","x":11,"y":-4.8},{"s":"l4","x":11.5,"y":-5.6},{"s":"l4","x":12,"y":-6.4},{"s":"l4","x":12.5,"y":-7.2},{"s":"l4","x":13,"y":-8},{"s":"l4","x":13.5,"y":-5.5},{"s":"l4","x":14,"y":-6.3},{"s":"l4","x":14.5,"y":-7.1},{"s":"l4","x":15,"y":-7.9},{"s":"l4","x":15.5,"y":-8.7},{"s":"l4","x":16,"y":-6.5},{"s":"l4","x":16.5,"y":-7.3},{"s":"l4","x":17,"y":-8.1},{"s":"l4","x":17.5,"y":-8.9},{"s":"l4","x":18,"y":-9.7},{"s":"l4","x":18.5,"y":-10.5},{"s":"l4","x":19,"y":-8.2},{"s":"l4","x":19.5,"y":-9},{"s":"l4","x":20,"y":-9.8},{"s":"l4","x":20.5,"y":-10.6},{"s":"l4","x":21,"y":-11.4},{"s":"l4","x":21.5,"y":-9.3},{"s":"l4","x":22,"y":-10.1},{"s":"l4","x":22.5,"y":-10.9},{"s":"l4","x":23,"y":-11.7},{"s":"l4","x":23.5,"y":-12},{"s":"l4","x":23.75,"y":-12.5},
{"s":"l2","x":0,"y":3},{"s":"l2","x":0.5,"y":2.3},{"s":"l2","x":1,"y":4},{"s":"l2","x":1.5,"y":5.5},{"s":"l2","x":2,"y":4.8},{"s":"l2","x":2.5,"y":11.5},{"s":"l2","x":3,"y":15.5},{"s":"l2","x":3.5,"y":14.5},{"s":"l2","x":4,"y":13},{"s":"l2","x":4.5,"y":11.2},{"s":"l2","x":5,"y":13},{"s":"l2","x":5.5,"y":10.2},{"s":"l2","x":6,"y":9.5},{"s":"l2","x":6.5,"y":8.7},{"s":"l2","x":7,"y":10},{"s":"l2","x":7.5,"y":9.3},{"s":"l2","x":8,"y":8.5},{"s":"l2","x":8.5,"y":7.8},{"s":"l2","x":9,"y":7},{"s":"l2","x":9.5,"y":9.2},{"s":"l2","x":10,"y":8.5},{"s":"l2","x":10.5,"y":7.7},{"s":"l2","x":11,"y":6.9},{"s":"l2","x":11.5,"y":6.2},{"s":"l2","x":12,"y":8},{"s":"l2","x":12.5,"y":7.2},{"s":"l2","x":13,"y":6.4},{"s":"l2","x":13.5,"y":5.6},{"s":"l2","x":14,"y":4.8},{"s":"l2","x":14.5,"y":4},{"s":"l2","x":15,"y":5.5},{"s":"l2","x":15.5,"y":4.7},{"s":"l2","x":16,"y":3.9},{"s":"l2","x":16.5,"y":3.1},{"s":"l2","x":17,"y":2.3},{"s":"l2","x":17.5,"y":1.5},{"s":"l2","x":18,"y":0.7},{"s":"l2","x":18.5,"y":-0.1},{"s":"l2","x":19,"y":1.2},{"s":"l2","x":19.5,"y":0.4},{"s":"l2","x":20,"y":-0.4},{"s":"l2","x":20.5,"y":-1.3},{"s":"l2","x":21,"y":-1.9},{"s":"l2","x":21.5,"y":-2.9},{"s":"l2","x":22,"y":-3.5},{"s":"l2","x":22.5,"y":-4.5},{"s":"l2","x":23,"y":-3.8},{"s":"l2","x":23.5,"y":-5.1},{"s":"l2","x":23.75,"y":-5.7},
{"s":"l3","x":0,"y":-0.5},{"s":"l3","x":0.5,"y":-1.2},{"s":"l3","x":1,"y":-1.9},{"s":"l3","x":1.5,"y":-2.6},{"s":"l3","x":2,"y":-0.8},{"s":"l3","x":2.5,"y":-1.5},{"s":"l3","x":3,"y":-2.2},{"s":"l3","x":3.5,"y":-2.9},{"s":"l3","x":4,"y":-0.5},{"s":"l3","x":4.5,"y":-1.2},{"s":"l3","x":5,"y":-1.9},{"s":"l3","x":5.5,"y":1.5},{"s":"l3","x":6,"y":0.8},{"s":"l3","x":6.5,"y":4},{"s":"l3","x":7,"y":3.3},{"s":"l3","x":7.5,"y":2.6},{"s":"l3","x":8,"y":5.5},{"s":"l3","x":8.5,"y":4.8},{"s":"l3","x":9,"y":4.1},{"s":"l3","x":9.5,"y":6.3},{"s":"l3","x":10,"y":5.6},{"s":"l3","x":10.5,"y":4.9},{"s":"l3","x":11,"y":7.8},{"s":"l3","x":11.5,"y":7.1},{"s":"l3","x":12,"y":6.4},{"s":"l3","x":12.5,"y":9},{"s":"l3","x":13,"y":8.3},{"s":"l3","x":13.5,"y":7.6},{"s":"l3","x":14,"y":10.5},{"s":"l3","x":14.5,"y":9.8},{"s":"l3","x":15,"y":12},{"s":"l3","x":15.5,"y":11.3},{"s":"l3","x":16,"y":10.6},{"s":"l3","x":16.5,"y":13.4},{"s":"l3","x":17,"y":12.7},{"s":"l3","x":17.5,"y":14},{"s":"l3","x":18,"y":13.3},{"s":"l3","x":18.5,"y":12.6},{"s":"l3","x":19,"y":11.9},{"s":"l3","x":19.5,"y":11.2},{"s":"l3","x":20,"y":10.5},{"s":"l3","x":20.5,"y":9.8},{"s":"l3","x":21,"y":10.8},{"s":"l3","x":21.5,"y":10.1},{"s":"l3","x":22,"y":11.5},{"s":"l3","x":22.5,"y":10.8},{"s":"l3","x":23,"y":12.9},{"s":"l3","x":23.5,"y":12.2},{"s":"l3","x":23.75,"y":12.4},
{"s":"l1","x":0,"y":2},{"s":"l1","x":0.5,"y":1.4},{"s":"l1","x":1,"y":0.7},{"s":"l1","x":1.5,"y":2.9},{"s":"l1","x":2,"y":2.2},{"s":"l1","x":2.5,"y":1.5},{"s":"l1","x":3,"y":0.8},{"s":"l1","x":3.5,"y":3.4},{"s":"l1","x":4,"y":2.7},{"s":"l1","x":4.5,"y":2},{"s":"l1","x":5,"y":1.3},{"s":"l1","x":5.5,"y":0.6},{"s":"l1","x":6,"y":3},{"s":"l1","x":6.5,"y":2.3},{"s":"l1","x":7,"y":1.5},{"s":"l1","x":7.5,"y":0.8},{"s":"l1","x":8,"y":0.1},{"s":"l1","x":8.5,"y":2.6},{"s":"l1","x":9,"y":1.9},{"s":"l1","x":9.5,"y":1.1},{"s":"l1","x":10,"y":0.4},{"s":"l1","x":10.5,"y":-0.3},{"s":"l1","x":11,"y":2.2},{"s":"l1","x":11.5,"y":1.5},{"s":"l1","x":12,"y":0.7},{"s":"l1","x":12.5,"y":0},{"s":"l1","x":13,"y":-0.7},{"s":"l1","x":13.5,"y":1.6},{"s":"l1","x":14,"y":0.9},{"s":"l1","x":14.5,"y":0.2},{"s":"l1","x":15,"y":-0.5},{"s":"l1","x":15.5,"y":-1.2},{"s":"l1","x":16,"y":1.5},{"s":"l1","x":16.5,"y":0.8},{"s":"l1","x":17,"y":0.1},{"s":"l1","x":17.5,"y":-0.6},{"s":"l1","x":18,"y":-1.2},{"s":"l1","x":18.5,"y":0.9},{"s":"l1","x":19,"y":0.2},{"s":"l1","x":19.5,"y":14},{"s":"l1","x":20,"y":21.7},{"s":"l1","x":20.5,"y":26.6},{"s":"l1","x":21,"y":25.3},{"s":"l1","x":21.5,"y":23.7},{"s":"l1","x":22,"y":22.1},{"s":"l1","x":22.5,"y":21.5},{"s":"l1","x":23,"y":21.9},{"s":"l1","x":23.5,"y":20.2},{"s":"l1","x":23.75,"y":19.9},
{"s":"d3","x":0,"y":0},{"s":"d3","x":0.5,"y":-0.7},{"s":"d3","x":1,"y":-1.4},{"s":"d3","x":1.5,"y":1},{"s":"d3","x":2,"y":0.3},{"s":"d3","x":2.5,"y":-0.4},{"s":"d3","x":3,"y":-1.1},{"s":"d3","x":3.5,"y":-1.8},{"s":"d3","x":4,"y":0.5},{"s":"d3","x":4.5,"y":-0.2},{"s":"d3","x":5,"y":-0.9},{"s":"d3","x":5.5,"y":-1.6},{"s":"d3","x":6,"y":-2.3},{"s":"d3","x":6.5,"y":-3},{"s":"d3","x":7,"y":-0.6},{"s":"d3","x":7.5,"y":-1.3},{"s":"d3","x":8,"y":-2},{"s":"d3","x":8.5,"y":-2.7},{"s":"d3","x":9,"y":-3.4},{"s":"d3","x":9.5,"y":-1},{"s":"d3","x":10,"y":-1.7},{"s":"d3","x":10.5,"y":-2.4},{"s":"d3","x":11,"y":-3.1},{"s":"d3","x":11.5,"y":-3.8},{"s":"d3","x":12,"y":-4.5},{"s":"d3","x":12.5,"y":-2.2},{"s":"d3","x":13,"y":-2.9},{"s":"d3","x":13.5,"y":-3.6},{"s":"d3","x":14,"y":-4.3},{"s":"d3","x":14.5,"y":-5},{"s":"d3","x":15,"y":-2.5},{"s":"d3","x":15.5,"y":-3.2},{"s":"d3","x":16,"y":-3.9},{"s":"d3","x":16.5,"y":-4.6},{"s":"d3","x":17,"y":-1.5},{"s":"d3","x":17.5,"y":-2.2},{"s":"d3","x":18,"y":-2.9},{"s":"d3","x":18.5,"y":-3.4},{"s":"d3","x":19,"y":-4.1},{"s":"d3","x":19.5,"y":-4.9},{"s":"d3","x":20,"y":-6},{"s":"d3","x":20.5,"y":-7.4},{"s":"d3","x":21,"y":-8.8},{"s":"d3","x":21.5,"y":-10.3},{"s":"d3","x":22,"y":-11.8},{"s":"d3","x":22.5,"y":-13.2},{"s":"d3","x":23,"y":-12.5},{"s":"d3","x":23.5,"y":-13.9},{"s":"d3","x":23.75,"y":-14.7},
{"s":"d2","x":0,"y":-0.5},{"s":"d2","x":0.5,"y":-1.2},{"s":"d2","x":1,"y":-1.9},{"s":"d2","x":1.5,"y":-2.6},{"s":"d2","x":2,"y":-3.3},{"s":"d2","x":2.5,"y":-1.5},{"s":"d2","x":3,"y":-2.2},{"s":"d2","x":3.5,"y":-2.9},{"s":"d2","x":4,"y":-3.6},{"s":"d2","x":4.5,"y":-4.3},{"s":"d2","x":5,"y":-5},{"s":"d2","x":5.5,"y":-3},{"s":"d2","x":6,"y":-3.7},{"s":"d2","x":6.5,"y":-4.4},{"s":"d2","x":7,"y":-5.1},{"s":"d2","x":7.5,"y":-2.5},{"s":"d2","x":8,"y":-3.2},{"s":"d2","x":8.5,"y":-3.9},{"s":"d2","x":9,"y":-4.6},{"s":"d2","x":9.5,"y":-2},{"s":"d2","x":10,"y":-2.7},{"s":"d2","x":10.5,"y":-3.4},{"s":"d2","x":11,"y":-4.1},{"s":"d2","x":11.5,"y":-1},{"s":"d2","x":12,"y":-1.7},{"s":"d2","x":12.5,"y":-2.4},{"s":"d2","x":13,"y":0.5},{"s":"d2","x":13.5,"y":-0.2},{"s":"d2","x":14,"y":-0.9},{"s":"d2","x":14.5,"y":-1.6},{"s":"d2","x":15,"y":2},{"s":"d2","x":15.5,"y":1.3},{"s":"d2","x":16,"y":0.6},{"s":"d2","x":16.5,"y":-0.1},{"s":"d2","x":17,"y":4.5},{"s":"d2","x":17.5,"y":3.8},{"s":"d2","x":18,"y":8},{"s":"d2","x":18.5,"y":7.3},{"s":"d2","x":19,"y":6.6},{"s":"d2","x":19.5,"y":5.9},{"s":"d2","x":20,"y":5.2},{"s":"d2","x":20.5,"y":4.5},{"s":"d2","x":21,"y":6.8},{"s":"d2","x":21.5,"y":6.1},{"s":"d2","x":22,"y":5.4},{"s":"d2","x":22.5,"y":4.7},{"s":"d2","x":23,"y":4},{"s":"d2","x":23.5,"y":3.3},{"s":"d2","x":23.75,"y":3.5},
{"s":"d1","x":0,"y":0},{"s":"d1","x":0.5,"y":1.5},{"s":"d1","x":1,"y":0.8},{"s":"d1","x":1.5,"y":3},{"s":"d1","x":2,"y":2.3},{"s":"d1","x":2.5,"y":6},{"s":"d1","x":3,"y":13.5},{"s":"d1","x":3.5,"y":12.8},{"s":"d1","x":4,"y":12},{"s":"d1","x":4.5,"y":11.2},{"s":"d1","x":5,"y":10.4},{"s":"d1","x":5.5,"y":9.6},{"s":"d1","x":6,"y":8.8},{"s":"d1","x":6.5,"y":8},{"s":"d1","x":7,"y":7.2},{"s":"d1","x":7.5,"y":9.5},{"s":"d1","x":8,"y":8.7},{"s":"d1","x":8.5,"y":19.2},{"s":"d1","x":9,"y":18},{"s":"d1","x":9.5,"y":16.8},{"s":"d1","x":10,"y":17.8},{"s":"d1","x":10.5,"y":16.4},{"s":"d1","x":11,"y":15.2},{"s":"d1","x":11.5,"y":13},{"s":"d1","x":12,"y":14},{"s":"d1","x":12.5,"y":13.2},{"s":"d1","x":13,"y":12.4},{"s":"d1","x":13.5,"y":11.6},{"s":"d1","x":14,"y":10.8},{"s":"d1","x":14.5,"y":10},{"s":"d1","x":15,"y":11.5},{"s":"d1","x":15.5,"y":10.8},{"s":"d1","x":16,"y":10},{"s":"d1","x":16.5,"y":9.2},{"s":"d1","x":17,"y":8.4},{"s":"d1","x":17.5,"y":10.5},{"s":"d1","x":18,"y":9.7},{"s":"d1","x":18.5,"y":8.9},{"s":"d1","x":19,"y":11.7},{"s":"d1","x":19.5,"y":13.5},{"s":"d1","x":20,"y":13},{"s":"d1","x":20.5,"y":14.3},{"s":"d1","x":21,"y":13.5},{"s":"d1","x":21.5,"y":11.5},{"s":"d1","x":22,"y":12.5},{"s":"d1","x":22.5,"y":11.1},{"s":"d1","x":23,"y":10.3},{"s":"d1","x":23.5,"y":14.6},{"s":"d1","x":23.75,"y":14.2},
{"s":"b7","x":0,"y":0},{"s":"b7","x":0.5,"y":-0.9},{"s":"b7","x":1,"y":-1.8},{"s":"b7","x":1.5,"y":-2.7},{"s":"b7","x":2,"y":-3.6},{"s":"b7","x":2.5,"y":-4.5},{"s":"b7","x":3,"y":-3},{"s":"b7","x":3.5,"y":-3.9},{"s":"b7","x":4,"y":-4.8},{"s":"b7","x":4.5,"y":-5.7},{"s":"b7","x":5,"y":-6.6},{"s":"b7","x":5.5,"y":-7.5},{"s":"b7","x":6,"y":-8.4},{"s":"b7","x":6.5,"y":-6},{"s":"b7","x":7,"y":-6.9},{"s":"b7","x":7.5,"y":-7.8},{"s":"b7","x":8,"y":-8.7},{"s":"b7","x":8.5,"y":-9.6},{"s":"b7","x":9,"y":-10.5},{"s":"b7","x":9.5,"y":-11.4},{"s":"b7","x":10,"y":-9},{"s":"b7","x":10.5,"y":-9.9},{"s":"b7","x":11,"y":-10.8},{"s":"b7","x":11.5,"y":-11.7},{"s":"b7","x":12,"y":-12.6},{"s":"b7","x":12.5,"y":-13.5},{"s":"b7","x":13,"y":-11.5},{"s":"b7","x":13.5,"y":-12.4},{"s":"b7","x":14,"y":-13.3},{"s":"b7","x":14.5,"y":-14.2},{"s":"b7","x":15,"y":-15.1},{"s":"b7","x":15.5,"y":-16},{"s":"b7","x":16,"y":-14},{"s":"b7","x":16.5,"y":-14.9},{"s":"b7","x":17,"y":-15.8},{"s":"b7","x":17.5,"y":-16.7},{"s":"b7","x":18,"y":-17.6},{"s":"b7","x":18.5,"y":-18.5},{"s":"b7","x":19,"y":-17},{"s":"b7","x":19.5,"y":-17.9},{"s":"b7","x":20,"y":-18.8},{"s":"b7","x":20.5,"y":-19.7},{"s":"b7","x":21,"y":-20.6},{"s":"b7","x":21.5,"y":-19.5},{"s":"b7","x":22,"y":-20.4},{"s":"b7","x":22.5,"y":-21.3},{"s":"b7","x":23,"y":-22.2},{"s":"b7","x":23.5,"y":-23.1},{"s":"b7","x":23.75,"y":-23.4},
{"s":"b6","x":0,"y":0.5},{"s":"b6","x":0.5,"y":-0.3},{"s":"b6","x":1,"y":-1.1},{"s":"b6","x":1.5,"y":-1.9},{"s":"b6","x":2,"y":0.2},{"s":"b6","x":2.5,"y":-0.6},{"s":"b6","x":3,"y":-1.4},{"s":"b6","x":3.5,"y":-2.2},{"s":"b6","x":4,"y":-3},{"s":"b6","x":4.5,"y":-3.8},{"s":"b6","x":5,"y":-4.6},{"s":"b6","x":5.5,"y":-5.4},{"s":"b6","x":6,"y":-3},{"s":"b6","x":6.5,"y":-3.8},{"s":"b6","x":7,"y":-4.6},{"s":"b6","x":7.5,"y":-5.4},{"s":"b6","x":8,"y":-6.2},{"s":"b6","x":8.5,"y":-7},{"s":"b6","x":9,"y":-7.8},{"s":"b6","x":9.5,"y":-5.5},{"s":"b6","x":10,"y":-6.3},{"s":"b6","x":10.5,"y":-7.1},{"s":"b6","x":11,"y":-7.9},{"s":"b6","x":11.5,"y":-8.7},{"s":"b6","x":12,"y":-9.5},{"s":"b6","x":12.5,"y":-10.3},{"s":"b6","x":13,"y":-8},{"s":"b6","x":13.5,"y":-8.8},{"s":"b6","x":14,"y":-9.6},{"s":"b6","x":14.5,"y":-10.4},{"s":"b6","x":15,"y":-11.2},{"s":"b6","x":15.5,"y":-12},{"s":"b6","x":16,"y":-9.5},{"s":"b6","x":16.5,"y":-10.3},{"s":"b6","x":17,"y":-11.1},{"s":"b6","x":17.5,"y":-11.9},{"s":"b6","x":18,"y":-12.7},{"s":"b6","x":18.5,"y":-13.5},{"s":"b6","x":19,"y":-11},{"s":"b6","x":19.5,"y":-11.8},{"s":"b6","x":20,"y":-12.6},{"s":"b6","x":20.5,"y":-13.4},{"s":"b6","x":21,"y":-11.5},{"s":"b6","x":21.5,"y":-12.3},{"s":"b6","x":22,"y":-13.1},{"s":"b6","x":22.5,"y":-13.9},{"s":"b6","x":23,"y":-14.7},{"s":"b6","x":23.5,"y":-16.3},{"s":"b6","x":23.75,"y":-17.2},
{"s":"b5","x":0,"y":0},{"s":"b5","x":0.5,"y":-0.8},{"s":"b5","x":1,"y":-1.6},{"s":"b5","x":1.5,"y":-2.4},{"s":"b5","x":2,"y":-3.2},{"s":"b5","x":2.5,"y":-4},{"s":"b5","x":3,"y":-2},{"s":"b5","x":3.5,"y":-2.8},{"s":"b5","x":4,"y":-3.6},{"s":"b5","x":4.5,"y":-4.4},{"s":"b5","x":5,"y":-5.2},{"s":"b5","x":5.5,"y":-6},{"s":"b5","x":6,"y":-6.8},{"s":"b5","x":6.5,"y":-7.5},{"s":"b5","x":7,"y":-8.4},{"s":"b5","x":7.5,"y":-9.2},{"s":"b5","x":8,"y":-10},{"s":"b5","x":8.5,"y":-10.9},{"s":"b5","x":9,"y":-12},{"s":"b5","x":9.5,"y":-13.1},{"s":"b5","x":10,"y":-3},{"s":"b5","x":10.5,"y":-3.8},{"s":"b5","x":11,"y":-4.6},{"s":"b5","x":11.5,"y":-5.4},{"s":"b5","x":12,"y":-2},{"s":"b5","x":12.5,"y":-2.8},{"s":"b5","x":13,"y":-3.6},{"s":"b5","x":13.5,"y":-4.4},{"s":"b5","x":14,"y":-5.2},{"s":"b5","x":14.5,"y":-6},{"s":"b5","x":15,"y":-6.8},{"s":"b5","x":15.5,"y":-7.6},{"s":"b5","x":16,"y":-5.2},{"s":"b5","x":16.5,"y":-6},{"s":"b5","x":17,"y":-6.8},{"s":"b5","x":17.5,"y":-7.6},{"s":"b5","x":18,"y":-8.4},{"s":"b5","x":18.5,"y":-9.2},{"s":"b5","x":19,"y":-10},{"s":"b5","x":19.5,"y":-7.5},{"s":"b5","x":20,"y":-8.3},{"s":"b5","x":20.5,"y":-9.1},{"s":"b5","x":21,"y":-9.9},{"s":"b5","x":21.5,"y":-10.7},{"s":"b5","x":22,"y":-11.5},{"s":"b5","x":22.5,"y":-12.3},{"s":"b5","x":23,"y":-13.9},{"s":"b5","x":23.5,"y":-14.8},{"s":"b5","x":23.75,"y":-15.6},
{"s":"b4","x":0,"y":0.5},{"s":"b4","x":0.5,"y":-0.2},{"s":"b4","x":1,"y":-0.9},{"s":"b4","x":1.5,"y":-1.6},{"s":"b4","x":2,"y":-2.3},{"s":"b4","x":2.5,"y":-3},{"s":"b4","x":3,"y":-1.2},{"s":"b4","x":3.5,"y":-1.9},{"s":"b4","x":4,"y":-2.6},{"s":"b4","x":4.5,"y":-3.3},{"s":"b4","x":5,"y":-4},{"s":"b4","x":5.5,"y":-4.7},{"s":"b4","x":6,"y":-2.5},{"s":"b4","x":6.5,"y":-3.2},{"s":"b4","x":7,"y":-3.9},{"s":"b4","x":7.5,"y":-4.6},{"s":"b4","x":8,"y":-5.3},{"s":"b4","x":8.5,"y":-2.8},{"s":"b4","x":9,"y":-3.5},{"s":"b4","x":9.5,"y":-4.2},{"s":"b4","x":10,"y":-1},{"s":"b4","x":10.5,"y":-1.7},{"s":"b4","x":11,"y":-2.4},{"s":"b4","x":11.5,"y":-3.1},{"s":"b4","x":12,"y":-3.8},{"s":"b4","x":12.5,"y":-2},{"s":"b4","x":13,"y":-2.7},{"s":"b4","x":13.5,"y":-3.4},{"s":"b4","x":14,"y":18.2},{"s":"b4","x":14.5,"y":17.4},{"s":"b4","x":15,"y":16.6},{"s":"b4","x":15.5,"y":18},{"s":"b4","x":16,"y":17.2},{"s":"b4","x":16.5,"y":16.4},{"s":"b4","x":17,"y":15.6},{"s":"b4","x":17.5,"y":14.8},{"s":"b4","x":18,"y":14},{"s":"b4","x":18.5,"y":13.2},{"s":"b4","x":19,"y":12.4},{"s":"b4","x":19.5,"y":13.6},{"s":"b4","x":20,"y":12.8},{"s":"b4","x":20.5,"y":12},{"s":"b4","x":21,"y":11.2},{"s":"b4","x":21.5,"y":10.4},{"s":"b4","x":22,"y":12},{"s":"b4","x":22.5,"y":11.2},{"s":"b4","x":23,"y":10.4},{"s":"b4","x":23.5,"y":9.6},{"s":"b4","x":23.75,"y":9.2},
{"s":"b2","x":0,"y":0},{"s":"b2","x":0.5,"y":-0.7},{"s":"b2","x":1,"y":-1.4},{"s":"b2","x":1.5,"y":-2.1},{"s":"b2","x":2,"y":-2.8},{"s":"b2","x":2.5,"y":-1},{"s":"b2","x":3,"y":-1.7},{"s":"b2","x":3.5,"y":-2.4},{"s":"b2","x":4,"y":-3.1},{"s":"b2","x":4.5,"y":-3.8},{"s":"b2","x":5,"y":-2.2},{"s":"b2","x":5.5,"y":-2.9},{"s":"b2","x":6,"y":-3.6},{"s":"b2","x":6.5,"y":-4.3},{"s":"b2","x":7,"y":-1.5},{"s":"b2","x":7.5,"y":-2.2},{"s":"b2","x":8,"y":-2},{"s":"b2","x":8.5,"y":17.6},{"s":"b2","x":9,"y":16.8},{"s":"b2","x":9.5,"y":16},{"s":"b2","x":10,"y":17.4},{"s":"b2","x":10.5,"y":16.6},{"s":"b2","x":11,"y":15.8},{"s":"b2","x":11.5,"y":15},{"s":"b2","x":12,"y":15.6},{"s":"b2","x":12.5,"y":14.8},{"s":"b2","x":13,"y":14},{"s":"b2","x":13.5,"y":16.8},{"s":"b2","x":14,"y":16},{"s":"b2","x":14.5,"y":15.2},{"s":"b2","x":15,"y":14.4},{"s":"b2","x":15.5,"y":17.5},{"s":"b2","x":16,"y":16.8},{"s":"b2","x":16.5,"y":16},{"s":"b2","x":17,"y":15.2},{"s":"b2","x":17.5,"y":14.4},{"s":"b2","x":18,"y":16.9},{"s":"b2","x":18.5,"y":15.6},{"s":"b2","x":19,"y":18.2},{"s":"b2","x":19.5,"y":17.3},{"s":"b2","x":20,"y":16.4},{"s":"b2","x":20.5,"y":15.6},{"s":"b2","x":21,"y":14},{"s":"b2","x":21.5,"y":13},{"s":"b2","x":22,"y":14.5},{"s":"b2","x":22.5,"y":13},{"s":"b2","x":23,"y":11.5},{"s":"b2","x":23.5,"y":10.2},{"s":"b2","x":23.75,"y":9.5},
{"s":"b0","x":0,"y":0.5},{"s":"b0","x":0.5,"y":-0.2},{"s":"b0","x":1,"y":-0.9},{"s":"b0","x":1.5,"y":-1.6},{"s":"b0","x":2,"y":-0.5},{"s":"b0","x":2.5,"y":-1.2},{"s":"b0","x":3,"y":-1.9},{"s":"b0","x":3.5,"y":-2.6},{"s":"b0","x":4,"y":-3.3},{"s":"b0","x":4.5,"y":-1.8},{"s":"b0","x":5,"y":-2.5},{"s":"b0","x":5.5,"y":-3.2},{"s":"b0","x":6,"y":-3.9},{"s":"b0","x":6.5,"y":-4.6},{"s":"b0","x":7,"y":-2.8},{"s":"b0","x":7.5,"y":-5.3},{"s":"b0","x":23.75,"y":-5.3},
{"s":"y1","x":0,"y":1},{"s":"y1","x":0.5,"y":2.5},{"s":"y1","x":1,"y":3.8},{"s":"y1","x":1.5,"y":6.6},{"s":"y1","x":2,"y":7.5},{"s":"y1","x":2.5,"y":6.8},{"s":"y1","x":3,"y":9.4},{"s":"y1","x":3.5,"y":8.7},{"s":"y1","x":4,"y":8},{"s":"y1","x":4.5,"y":7.3},{"s":"y1","x":5,"y":6.6},{"s":"y1","x":5.5,"y":5.9},{"s":"y1","x":6,"y":9.8},{"s":"y1","x":6.5,"y":12.4},{"s":"y1","x":7,"y":11.4},{"s":"y1","x":7.5,"y":12},{"s":"y1","x":8,"y":10.5},{"s":"y1","x":8.5,"y":17.2},{"s":"y1","x":9,"y":15.6},{"s":"y1","x":9.5,"y":14.3},{"s":"y1","x":10,"y":14.2},{"s":"y1","x":10.5,"y":13.8},{"s":"y1","x":11,"y":13.4},{"s":"y1","x":11.5,"y":17.5},{"s":"y1","x":12,"y":19.1},{"s":"y1","x":12.5,"y":18},{"s":"y1","x":13,"y":16.4},{"s":"y1","x":13.5,"y":16},{"s":"y1","x":14,"y":15.4},{"s":"y1","x":14.5,"y":15},{"s":"y1","x":15,"y":19.1},{"s":"y1","x":15.5,"y":18},{"s":"y1","x":16,"y":16.6},{"s":"y1","x":16.5,"y":15.8},{"s":"y1","x":17,"y":15.1},{"s":"y1","x":17.5,"y":17.8},{"s":"y1","x":18,"y":20.5},{"s":"y1","x":18.5,"y":22.3},{"s":"y1","x":19,"y":21.6},{"s":"y1","x":19.5,"y":20.2},{"s":"y1","x":20,"y":19},{"s":"y1","x":20.5,"y":17.8},{"s":"y1","x":21,"y":17.2},{"s":"y1","x":21.5,"y":18.5},{"s":"y1","x":22,"y":16.9},{"s":"y1","x":22.5,"y":16.2},{"s":"y1","x":23,"y":15.9},{"s":"y1","x":23.5,"y":15},{"s":"y1","x":23.75,"y":14.6},
{"s":"m1","x":0,"y":1},{"s":"m1","x":0.5,"y":0.3},{"s":"m1","x":1,"y":-0.4},{"s":"m1","x":1.5,"y":-1.1},{"s":"m1","x":2,"y":-1.7},{"s":"m1","x":2.5,"y":0.5},{"s":"m1","x":3,"y":-0.2},{"s":"m1","x":3.5,"y":-0.9},{"s":"m1","x":4,"y":1.8},{"s":"m1","x":4.5,"y":1.1},{"s":"m1","x":5,"y":0.4},{"s":"m1","x":5.5,"y":2.9},{"s":"m1","x":6,"y":2.1},{"s":"m1","x":6.5,"y":1.4},{"s":"m1","x":7,"y":4.2},{"s":"m1","x":7.5,"y":3.5},{"s":"m1","x":8,"y":5.8},{"s":"m1","x":8.5,"y":5},{"s":"m1","x":9,"y":4.3},{"s":"m1","x":9.5,"y":7.1},{"s":"m1","x":10,"y":6.4},{"s":"m1","x":10.5,"y":8.9},{"s":"m1","x":11,"y":8.2},{"s":"m1","x":11.5,"y":7.4},{"s":"m1","x":12,"y":9.8},{"s":"m1","x":12.5,"y":11.9},{"s":"m1","x":13,"y":11.1},{"s":"m1","x":13.5,"y":14},{"s":"m1","x":14,"y":16.8},{"s":"m1","x":14.5,"y":16},{"s":"m1","x":15,"y":19.2},{"s":"m1","x":15.5,"y":21},{"s":"m1","x":16,"y":20.1},{"s":"m1","x":16.5,"y":19.4},{"s":"m1","x":17,"y":18.6},{"s":"m1","x":17.5,"y":18.1},{"s":"m1","x":18,"y":20.4},{"s":"m1","x":18.5,"y":21.8},{"s":"m1","x":19,"y":29},{"s":"m1","x":19.5,"y":29.6},{"s":"m1","x":20,"y":27.5},{"s":"m1","x":20.5,"y":27.3},{"s":"m1","x":21,"y":30.1},{"s":"m1","x":21.5,"y":30.4},{"s":"m1","x":22,"y":35},{"s":"m1","x":22.5,"y":36.5},{"s":"m1","x":23,"y":38.4},{"s":"m1","x":23.5,"y":40.2},{"s":"m1","x":23.75,"y":39.4},
{"s":"r6","x":0,"y":1.5},{"s":"r6","x":0.5,"y":0.8},{"s":"r6","x":1,"y":0.1},{"s":"r6","x":1.5,"y":-0.6},{"s":"r6","x":2,"y":-1.3},{"s":"r6","x":2.5,"y":-2},{"s":"r6","x":3,"y":-2.7},{"s":"r6","x":3.5,"y":-3.4},{"s":"r6","x":4,"y":-1},{"s":"r6","x":4.5,"y":-1.7},{"s":"r6","x":5,"y":-2.4},{"s":"r6","x":5.5,"y":-3.1},{"s":"r6","x":6,"y":-3.8},{"s":"r6","x":6.5,"y":-0.5},{"s":"r6","x":7,"y":-1.2},{"s":"r6","x":7.5,"y":3},{"s":"r6","x":8,"y":2.3},{"s":"r6","x":8.5,"y":1.6},{"s":"r6","x":9,"y":7},{"s":"r6","x":9.5,"y":6.3},{"s":"r6","x":10,"y":5.6},{"s":"r6","x":10.5,"y":4.9},{"s":"r6","x":11,"y":4.2},{"s":"r6","x":11.5,"y":3.5},{"s":"r6","x":12,"y":2.8},{"s":"r6","x":12.5,"y":2.1},{"s":"r6","x":13,"y":1.4},{"s":"r6","x":13.5,"y":3.8},{"s":"r6","x":14,"y":3.1},{"s":"r6","x":14.5,"y":2.4},{"s":"r6","x":15,"y":1.7},{"s":"r6","x":15.5,"y":1},{"s":"r6","x":16,"y":3.5},{"s":"r6","x":16.5,"y":2.8},{"s":"r6","x":17,"y":2.1},{"s":"r6","x":17.5,"y":5},{"s":"r6","x":18,"y":4.3},{"s":"r6","x":18.5,"y":3.6},{"s":"r6","x":19,"y":2.9},{"s":"r6","x":19.5,"y":2.2},{"s":"r6","x":20,"y":1.5},{"s":"r6","x":20.5,"y":4},{"s":"r6","x":21,"y":3.3},{"s":"r6","x":21.5,"y":2.6},{"s":"r6","x":22,"y":1.9},{"s":"r6","x":22.5,"y":1.2},{"s":"r6","x":23,"y":0.5},{"s":"r6","x":23.5,"y":1.6},{"s":"r6","x":23.75,"y":1.1},
{"s":"r5","x":0,"y":-0.5},{"s":"r5","x":0.5,"y":-1.2},{"s":"r5","x":1,"y":0.5},{"s":"r5","x":1.5,"y":-0.2},{"s":"r5","x":2,"y":-0.9},{"s":"r5","x":2.5,"y":-1.6},{"s":"r5","x":3,"y":-2.3},{"s":"r5","x":3.5,"y":0.8},{"s":"r5","x":4,"y":0.1},{"s":"r5","x":4.5,"y":3.2},{"s":"r5","x":5,"y":2.5},{"s":"r5","x":5.5,"y":1.8},{"s":"r5","x":6,"y":1.1},{"s":"r5","x":6.5,"y":4.5},{"s":"r5","x":7,"y":3.8},{"s":"r5","x":7.5,"y":3.1},{"s":"r5","x":8,"y":2.4},{"s":"r5","x":8.5,"y":6.8},{"s":"r5","x":9,"y":6.1},{"s":"r5","x":9.5,"y":5.4},{"s":"r5","x":10,"y":4.7},{"s":"r5","x":10.5,"y":4},{"s":"r5","x":11,"y":3.3},{"s":"r5","x":11.5,"y":2.6},{"s":"r5","x":12,"y":1.9},{"s":"r5","x":12.5,"y":4.5},{"s":"r5","x":13,"y":3.8},{"s":"r5","x":13.5,"y":3.1},{"s":"r5","x":14,"y":2.4},{"s":"r5","x":14.5,"y":5.6},{"s":"r5","x":15,"y":4.9},{"s":"r5","x":15.5,"y":4.2},{"s":"r5","x":16,"y":3.5},{"s":"r5","x":16.5,"y":7},{"s":"r5","x":17,"y":6.3},{"s":"r5","x":17.5,"y":5.6},{"s":"r5","x":18,"y":8},{"s":"r5","x":18.5,"y":7.3},{"s":"r5","x":19,"y":6.6},{"s":"r5","x":19.5,"y":9.2},{"s":"r5","x":20,"y":8.5},{"s":"r5","x":20.5,"y":7.8},{"s":"r5","x":21,"y":7.1},{"s":"r5","x":21.5,"y":6.4},{"s":"r5","x":22,"y":5.7},{"s":"r5","x":22.5,"y":5},{"s":"r5","x":23,"y":4.3},{"s":"r5","x":23.5,"y":5.8},{"s":"r5","x":23.75,"y":5.4},
{"s":"r4","x":0,"y":2},{"s":"r4","x":0.5,"y":1.3},{"s":"r4","x":1,"y":0.6},{"s":"r4","x":1.5,"y":-0.1},{"s":"r4","x":2,"y":-0.8},{"s":"r4","x":2.5,"y":1.8},{"s":"r4","x":3,"y":1.1},{"s":"r4","x":3.5,"y":0.4},{"s":"r4","x":4,"y":-0.3},{"s":"r4","x":4.5,"y":-1},{"s":"r4","x":5,"y":2.2},{"s":"r4","x":5.5,"y":1.5},{"s":"r4","x":6,"y":0.8},{"s":"r4","x":6.5,"y":0.1},{"s":"r4","x":7,"y":-0.6},{"s":"r4","x":7.5,"y":-1.3},{"s":"r4","x":8,"y":-2},{"s":"r4","x":8.5,"y":1},{"s":"r4","x":9,"y":0.3},{"s":"r4","x":9.5,"y":5.5},{"s":"r4","x":10,"y":4.8},{"s":"r4","x":10.5,"y":4.1},{"s":"r4","x":11,"y":3.4},{"s":"r4","x":11.5,"y":2.7},{"s":"r4","x":12,"y":2},{"s":"r4","x":12.5,"y":1.3},{"s":"r4","x":13,"y":0.6},{"s":"r4","x":13.5,"y":-0.1},{"s":"r4","x":14,"y":-0.8},{"s":"r4","x":14.5,"y":2.2},{"s":"r4","x":15,"y":1.5},{"s":"r4","x":15.5,"y":0.8},{"s":"r4","x":16,"y":0.1},{"s":"r4","x":16.5,"y":-0.6},{"s":"r4","x":17,"y":2.5},{"s":"r4","x":17.5,"y":1.8},{"s":"r4","x":18,"y":1.1},{"s":"r4","x":18.5,"y":0.4},{"s":"r4","x":19,"y":-0.3},{"s":"r4","x":19.5,"y":3},{"s":"r4","x":20,"y":2.3},{"s":"r4","x":20.5,"y":5.5},{"s":"r4","x":21,"y":4.8},{"s":"r4","x":21.5,"y":4.1},{"s":"r4","x":22,"y":6.8},{"s":"r4","x":22.5,"y":6.1},{"s":"r4","x":23,"y":5.4},{"s":"r4","x":23.5,"y":8.6},{"s":"r4","x":23.75,"y":8.2},
{"s":"r3","x":0,"y":0},{"s":"r3","x":6,"y":0},{"s":"r3","x":6.5,"y":-0.6},{"s":"r3","x":7,"y":-1.3},{"s":"r3","x":7.5,"y":2.1},{"s":"r3","x":8,"y":1.4},{"s":"r3","x":8.5,"y":5.6},{"s":"r3","x":9,"y":4.9},{"s":"r3","x":9.5,"y":4.1},{"s":"r3","x":10,"y":7.3},{"s":"r3","x":10.5,"y":6.6},{"s":"r3","x":11,"y":5.8},{"s":"r3","x":11.5,"y":8.9},{"s":"r3","x":12,"y":8.2},{"s":"r3","x":12.5,"y":7.4},{"s":"r3","x":13,"y":6.7},{"s":"r3","x":13.5,"y":9.5},{"s":"r3","x":14,"y":8.8},{"s":"r3","x":14.5,"y":8.1},{"s":"r3","x":15,"y":7.3},{"s":"r3","x":15.5,"y":6.6},{"s":"r3","x":16,"y":10.2},{"s":"r3","x":16.5,"y":9.4},{"s":"r3","x":17,"y":8.7},{"s":"r3","x":17.5,"y":7.9},{"s":"r3","x":18,"y":7.2},{"s":"r3","x":18.5,"y":8.4},{"s":"r3","x":19,"y":7.7},{"s":"r3","x":19.5,"y":6.9},{"s":"r3","x":20,"y":6.2},{"s":"r3","x":20.5,"y":9},{"s":"r3","x":21,"y":8.3},{"s":"r3","x":21.5,"y":7.5},{"s":"r3","x":22,"y":6.8},{"s":"r3","x":22.5,"y":6.1},{"s":"r3","x":23,"y":5.4},{"s":"r3","x":23.5,"y":4.6},{"s":"r3","x":23.75,"y":4.2},
{"s":"r2","x":0,"y":0.5},{"s":"r2","x":0.5,"y":-0.2},{"s":"r2","x":1,"y":-0.9},{"s":"r2","x":1.5,"y":-1.5},{"s":"r2","x":2,"y":0.6},{"s":"r2","x":2.5,"y":-0.1},{"s":"r2","x":3,"y":-0.8},{"s":"r2","x":3.5,"y":1.5},{"s":"r2","x":4,"y":0.9},{"s":"r2","x":4.5,"y":0.2},{"s":"r2","x":5,"y":2.4},{"s":"r2","x":5.5,"y":1.8},{"s":"r2","x":6,"y":4.6},{"s":"r2","x":6.5,"y":3.9},{"s":"r2","x":7,"y":6.8},{"s":"r2","x":7.5,"y":6.1},{"s":"r2","x":8,"y":9.5},{"s":"r2","x":8.5,"y":8.7},{"s":"r2","x":9,"y":13.5},{"s":"r2","x":9.5,"y":12.8},{"s":"r2","x":10,"y":16},{"s":"r2","x":10.5,"y":15.2},{"s":"r2","x":11,"y":18.8},{"s":"r2","x":11.5,"y":18},{"s":"r2","x":12,"y":20.5},{"s":"r2","x":12.5,"y":19.6},{"s":"r2","x":13,"y":22.3},{"s":"r2","x":13.5,"y":21.4},{"s":"r2","x":14,"y":26.7},{"s":"r2","x":14.5,"y":25.9},{"s":"r2","x":15,"y":30.5},{"s":"r2","x":15.5,"y":28.8},{"s":"r2","x":16,"y":30.5},{"s":"r2","x":16.5,"y":33},{"s":"r2","x":17,"y":32},{"s":"r2","x":17.5,"y":31.2},{"s":"r2","x":18,"y":30.2},{"s":"r2","x":18.5,"y":32.4},{"s":"r2","x":19,"y":30.4},{"s":"r2","x":19.5,"y":29},{"s":"r2","x":20,"y":28.3},{"s":"r2","x":20.5,"y":28},{"s":"r2","x":21,"y":30.6},{"s":"r2","x":21.5,"y":28.8},{"s":"r2","x":22,"y":26.9},{"s":"r2","x":22.5,"y":25.8},{"s":"r2","x":23,"y":25.6},{"s":"r2","x":23.5,"y":23.9},{"s":"r2","x":23.75,"y":23.2},
{"s":"r1","x":0,"y":0},{"s":"r1","x":0.5,"y":-0.6},{"s":"r1","x":1,"y":-1.2},{"s":"r1","x":1.5,"y":0.8},{"s":"r1","x":2,"y":0.2},{"s":"r1","x":2.5,"y":2.8},{"s":"r1","x":3,"y":3.6},{"s":"r1","x":3.5,"y":6.5},{"s":"r1","x":4,"y":5.8},{"s":"r1","x":4.5,"y":5.1},{"s":"r1","x":5,"y":4.5},{"s":"r1","x":5.5,"y":8.8},{"s":"r1","x":6,"y":13.2},{"s":"r1","x":6.5,"y":12.4},{"s":"r1","x":7,"y":15.3},{"s":"r1","x":7.5,"y":20.2},{"s":"r1","x":8,"y":22.1},{"s":"r1","x":8.5,"y":20.4},{"s":"r1","x":9,"y":18.9},{"s":"r1","x":9.5,"y":21.7},{"s":"r1","x":10,"y":25.2},{"s":"r1","x":10.5,"y":24.4},{"s":"r1","x":11,"y":29.6},{"s":"r1","x":11.5,"y":32.4},{"s":"r1","x":12,"y":33.1},{"s":"r1","x":12.5,"y":31.8},{"s":"r1","x":13,"y":35.2},{"s":"r1","x":13.5,"y":34.4},{"s":"r1","x":14,"y":35},{"s":"r1","x":14.5,"y":34.6},{"s":"r1","x":15,"y":33.4},{"s":"r1","x":15.5,"y":31.9},{"s":"r1","x":16,"y":30.1},{"s":"r1","x":16.5,"y":33.6},{"s":"r1","x":17,"y":32.4},{"s":"r1","x":17.5,"y":31.5},{"s":"r1","x":18,"y":31.1},{"s":"r1","x":18.5,"y":34.2},{"s":"r1","x":19,"y":32.5},{"s":"r1","x":19.5,"y":30.8},{"s":"r1","x":20,"y":30},{"s":"r1","x":20.5,"y":39},{"s":"r1","x":21,"y":40},{"s":"r1","x":21.5,"y":38.5},{"s":"r1","x":22,"y":37},{"s":"r1","x":22.5,"y":35.4},{"s":"r1","x":23,"y":33.2},{"s":"r1","x":23.5,"y":37.2},{"s":"r1","x":23.75,"y":36.6}
]},
"layer": [
  {
    "mark": {"type": "line", "strokeWidth": 1, "clip": true},
    "encoding": {
      "x": {"field": "x", "type": "quantitative", "scale": {"domain": [0, 23.75], "nice": false, "zero": false},
            "axis": {"orient": "bottom", "title": "Hour of Day", "values": [0,1,2,3,4,5,6,7,8,9,10,11,12,13,14,15,16,17,18,19,20,21,22,23], "format": "d", "titleX": 284.5, "titleY": 27, "titleBaseline": "middle"}},
      "y": {"field": "y", "type": "quantitative", "scale": {"domain": [-30, 50], "nice": false, "zero": false},
            "axis": {"orient": "left", "title": "Cumulative (Z*Z)-1", "values": [-30,-20,-10,0,10,20,30,40,50], "format": "d", "titleX": -41, "titleY": 207, "titleAngle": -90, "titleAlign": "center", "titleBaseline": "middle"}},
      "color": {"field": "s", "type": "nominal", "legend": null, "sort": null,
        "scale": {"domain": ["n1","n2","n3","n4","n5","n6","n7","n8","c1","c2","c4","c3","y3","y2","g3","g2","g1","m4","m3","m5","m2","k3","k2","k1","l4","l2","l3","l1","d3","d2","d1","b7","b6","b5","b4","b2","b0","y1","m1","r6","r5","r4","r3","r2","r1"],
                  "range": ["#6464ff","#f0f000","#00a000","#30f0f0","#0000e0","#ff50ff","#b00000","#ff0000","#30f0f0","#30f0f0","#30f0f0","#30f0f0","#f0f000","#f0f000","#00a000","#00a000","#00a000","#ff50ff","#ff50ff","#ff50ff","#ff50ff","#000000","#000000","#000000","#6464ff","#6464ff","#6464ff","#6464ff","#b00000","#b00000","#b00000","#0000e0","#0000e0","#0000e0","#0000e0","#0000e0","#0000e0","#f0f000","#ff50ff","#ff0000","#ff0000","#ff0000","#ff0000","#ff0000","#ff0000"]}}
    }
  },
  {
    "mark": {"type": "line", "opacity": 0},
    "encoding": {
      "x": {"field": "x", "type": "quantitative", "scale": {"domain": [0, 23.75], "nice": false, "zero": false},
            "axis": {"orient": "top", "title": null, "labels": false, "values": [0,1,2,3,4,5,6,7,8,9,10,11,12,13,14,15,16,17,18,19,20,21,22,23]}},
      "y": {"field": "y", "type": "quantitative", "scale": {"domain": [-30, 50], "nice": false, "zero": false},
            "axis": {"orient": "right", "title": null, "labels": false, "values": [-30,-20,-10,0,10,20,30,40,50]}},
      "detail": {"field": "s", "type": "nominal"}
    }
  }
],
"resolve": {"axis": {"x": "independent", "y": "independent"}}
}
